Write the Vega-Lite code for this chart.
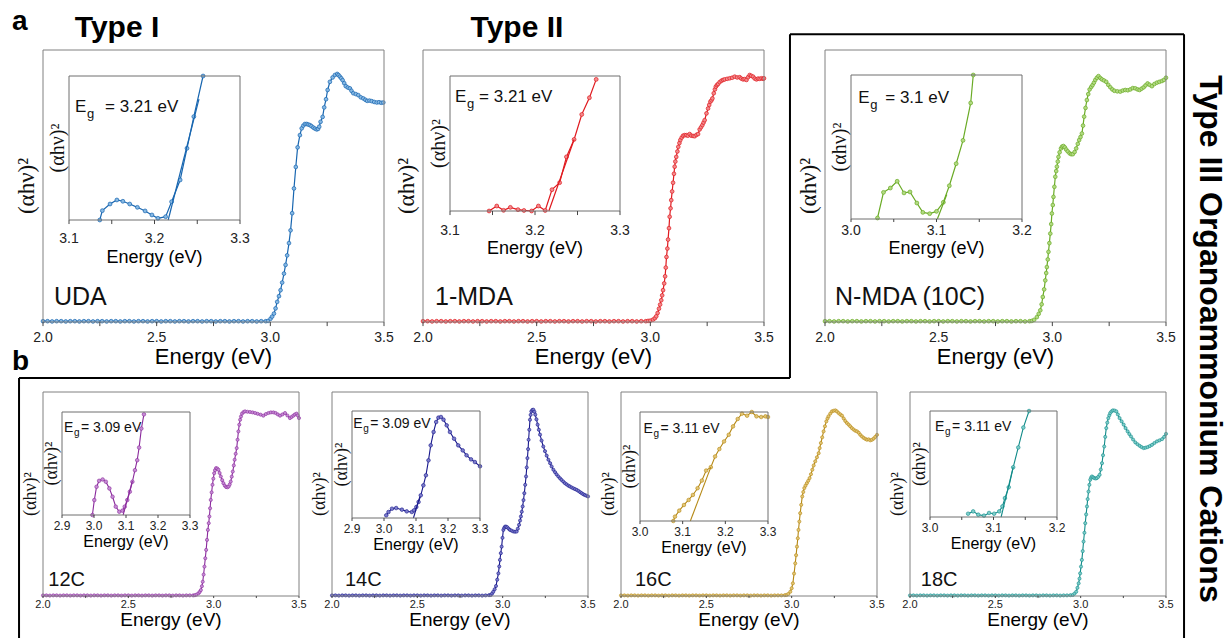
{
"$schema": "https://vega.github.io/schema/vega-lite/v6.json",
"width": 1228, "height": 638,
"autosize": {"type": "none"},
"padding": 0,
"config": {"view": {"stroke": null}, "font": "Liberation Sans"},
"datasets": {
"tk_main": [{"t":2,"l":"2.0"},{"t":2.25,"l":""},{"t":2.5,"l":"2.5"},{"t":2.75,"l":""},{"t":3,"l":"3.0"},{"t":3.25,"l":""},{"t":3.5,"l":"3.5"}],
"tk_a": [{"t":3.1,"l":"3.1"},{"t":3.15,"l":""},{"t":3.2,"l":"3.2"},{"t":3.25,"l":""},{"t":3.3,"l":"3.3"}],
"tk_b": [{"t":3.0,"l":"3.0"},{"t":3.05,"l":""},{"t":3.1,"l":"3.1"},{"t":3.15,"l":""},{"t":3.2,"l":"3.2"}],
"tk_c": [{"t":2.9,"l":"2.9"},{"t":3.0,"l":"3.0"},{"t":3.1,"l":"3.1"},{"t":3.2,"l":"3.2"},{"t":3.3,"l":"3.3"}],
"tk_d": [{"t":3.0,"l":"3.0"},{"t":3.1,"l":"3.1"},{"t":3.2,"l":"3.2"},{"t":3.3,"l":"3.3"}],
"uda": [
{"e":2.00,"v":0.003},{"e":2.02,"v":0.003},{"e":2.04,"v":0.002},{"e":2.06,"v":0.003},{"e":2.08,"v":0.003},{"e":2.10,"v":0.002},{"e":2.12,"v":0.003},{"e":2.14,"v":0.003},{"e":2.16,"v":0.002},{"e":2.18,"v":0.003},{"e":2.20,"v":0.003},{"e":2.22,"v":0.002},{"e":2.24,"v":0.003},{"e":2.26,"v":0.003},{"e":2.28,"v":0.002},{"e":2.30,"v":0.003},{"e":2.32,"v":0.003},{"e":2.34,"v":0.002},{"e":2.36,"v":0.003},{"e":2.38,"v":0.003},{"e":2.40,"v":0.002},{"e":2.42,"v":0.003},{"e":2.44,"v":0.003},{"e":2.46,"v":0.002},{"e":2.48,"v":0.003},{"e":2.50,"v":0.003},{"e":2.52,"v":0.002},{"e":2.54,"v":0.003},{"e":2.56,"v":0.003},{"e":2.58,"v":0.002},{"e":2.60,"v":0.003},{"e":2.62,"v":0.003},{"e":2.64,"v":0.002},{"e":2.66,"v":0.003},{"e":2.68,"v":0.003},{"e":2.70,"v":0.002},{"e":2.72,"v":0.003},{"e":2.74,"v":0.003},{"e":2.76,"v":0.002},{"e":2.78,"v":0.003},{"e":2.80,"v":0.003},{"e":2.82,"v":0.002},{"e":2.84,"v":0.003},{"e":2.86,"v":0.003},{"e":2.88,"v":0.002},{"e":2.90,"v":0.003},{"e":2.92,"v":0.003},{"e":2.94,"v":0.002},{"e":2.96,"v":0.003},{"e":2.98,"v":0.003},
{"e":2.99,"v":0.004},{"e":3.001,"v":0.012},{"e":3.008,"v":0.02},{"e":3.016,"v":0.031},{"e":3.023,"v":0.05},{"e":3.030,"v":0.074},{"e":3.038,"v":0.095},{"e":3.045,"v":0.117},{"e":3.052,"v":0.145},{"e":3.060,"v":0.178},{"e":3.067,"v":0.21},{"e":3.074,"v":0.245},{"e":3.082,"v":0.29},{"e":3.089,"v":0.337},{"e":3.096,"v":0.40},{"e":3.104,"v":0.491},{"e":3.112,"v":0.570},{"e":3.120,"v":0.642},{"e":3.130,"v":0.687},{"e":3.138,"v":0.712},{"e":3.145,"v":0.722},{"e":3.152,"v":0.728},{"e":3.160,"v":0.728},{"e":3.167,"v":0.726},{"e":3.174,"v":0.724},{"e":3.181,"v":0.72},{"e":3.189,"v":0.715},{"e":3.196,"v":0.711},{"e":3.204,"v":0.708},{"e":3.210,"v":0.710},{"e":3.215,"v":0.718},{"e":3.221,"v":0.736},{"e":3.230,"v":0.754},{"e":3.237,"v":0.789},{"e":3.245,"v":0.819},{"e":3.252,"v":0.853},{"e":3.262,"v":0.883},{"e":3.274,"v":0.899},{"e":3.284,"v":0.908},{"e":3.294,"v":0.912},{"e":3.300,"v":0.908},{"e":3.306,"v":0.902},{"e":3.312,"v":0.896},{"e":3.318,"v":0.889},{"e":3.325,"v":0.878},{"e":3.332,"v":0.867},{"e":3.341,"v":0.862},{"e":3.350,"v":0.859},{"e":3.357,"v":0.85},{"e":3.365,"v":0.841},{"e":3.376,"v":0.838},{"e":3.387,"v":0.834},{"e":3.398,"v":0.826},{"e":3.409,"v":0.822},{"e":3.418,"v":0.817},{"e":3.426,"v":0.813},{"e":3.436,"v":0.814},{"e":3.446,"v":0.812},{"e":3.457,"v":0.809},{"e":3.468,"v":0.807},{"e":3.478,"v":0.808},{"e":3.488,"v":0.806},{"e":3.497,"v":0.807}
],
"mda": [
{"e":2.00,"v":0.003},{"e":2.02,"v":0.003},{"e":2.04,"v":0.002},{"e":2.06,"v":0.003},{"e":2.08,"v":0.003},{"e":2.10,"v":0.002},{"e":2.12,"v":0.003},{"e":2.14,"v":0.003},{"e":2.16,"v":0.002},{"e":2.18,"v":0.003},{"e":2.20,"v":0.003},{"e":2.22,"v":0.002},{"e":2.24,"v":0.003},{"e":2.26,"v":0.003},{"e":2.28,"v":0.002},{"e":2.30,"v":0.003},{"e":2.32,"v":0.003},{"e":2.34,"v":0.002},{"e":2.36,"v":0.003},{"e":2.38,"v":0.003},{"e":2.40,"v":0.002},{"e":2.42,"v":0.003},{"e":2.44,"v":0.003},{"e":2.46,"v":0.002},{"e":2.48,"v":0.003},{"e":2.50,"v":0.003},{"e":2.52,"v":0.002},{"e":2.54,"v":0.003},{"e":2.56,"v":0.003},{"e":2.58,"v":0.002},{"e":2.60,"v":0.003},{"e":2.62,"v":0.003},{"e":2.64,"v":0.002},{"e":2.66,"v":0.003},{"e":2.68,"v":0.003},{"e":2.70,"v":0.002},{"e":2.72,"v":0.003},{"e":2.74,"v":0.003},{"e":2.76,"v":0.002},{"e":2.78,"v":0.003},{"e":2.80,"v":0.003},{"e":2.82,"v":0.002},{"e":2.84,"v":0.003},{"e":2.86,"v":0.003},{"e":2.88,"v":0.002},{"e":2.90,"v":0.003},{"e":2.92,"v":0.003},{"e":2.94,"v":0.002},{"e":2.96,"v":0.003},{"e":2.98,"v":0.003},
{"e":2.99,"v":0.004},{"e":3.000,"v":0.005},{"e":3.012,"v":0.009},{"e":3.020,"v":0.014},{"e":3.026,"v":0.021},{"e":3.032,"v":0.033},{"e":3.038,"v":0.049},{"e":3.043,"v":0.064},{"e":3.048,"v":0.080},{"e":3.052,"v":0.098},{"e":3.056,"v":0.117},{"e":3.061,"v":0.142},{"e":3.065,"v":0.168},{"e":3.068,"v":0.2},{"e":3.071,"v":0.239},{"e":3.075,"v":0.27},{"e":3.078,"v":0.303},{"e":3.082,"v":0.345},{"e":3.085,"v":0.387},{"e":3.089,"v":0.418},{"e":3.092,"v":0.448},{"e":3.096,"v":0.48},{"e":3.100,"v":0.512},{"e":3.104,"v":0.545},{"e":3.107,"v":0.571},{"e":3.110,"v":0.59},{"e":3.114,"v":0.607},{"e":3.119,"v":0.627},{"e":3.123,"v":0.644},{"e":3.128,"v":0.658},{"e":3.132,"v":0.669},{"e":3.138,"v":0.678},{"e":3.144,"v":0.685},{"e":3.151,"v":0.687},{"e":3.158,"v":0.687},{"e":3.165,"v":0.685},{"e":3.173,"v":0.691},{"e":3.180,"v":0.685},{"e":3.188,"v":0.684},{"e":3.195,"v":0.683},{"e":3.203,"v":0.688},{"e":3.210,"v":0.691},{"e":3.217,"v":0.708},{"e":3.223,"v":0.716},{"e":3.229,"v":0.724},{"e":3.234,"v":0.733},{"e":3.239,"v":0.742},{"e":3.247,"v":0.767},{"e":3.254,"v":0.785},{"e":3.259,"v":0.798},{"e":3.264,"v":0.810},{"e":3.269,"v":0.815},{"e":3.273,"v":0.822},{"e":3.279,"v":0.841},{"e":3.284,"v":0.855},{"e":3.288,"v":0.865},{"e":3.293,"v":0.871},{"e":3.298,"v":0.875},{"e":3.305,"v":0.882},{"e":3.313,"v":0.887},{"e":3.320,"v":0.89},{"e":3.327,"v":0.892},{"e":3.338,"v":0.894},{"e":3.349,"v":0.896},{"e":3.360,"v":0.898},{"e":3.371,"v":0.902},{"e":3.382,"v":0.899},{"e":3.393,"v":0.900},{"e":3.400,"v":0.895},{"e":3.408,"v":0.892},{"e":3.415,"v":0.893},{"e":3.423,"v":0.890},{"e":3.430,"v":0.9},{"e":3.437,"v":0.908},{"e":3.444,"v":0.905},{"e":3.452,"v":0.902},{"e":3.459,"v":0.895},{"e":3.467,"v":0.892},{"e":3.474,"v":0.895},{"e":3.481,"v":0.894},{"e":3.489,"v":0.896},{"e":3.496,"v":0.894},{"e":3.500,"v":0.896}
],
"nmda": [
{"e":2.00,"v":0.003},{"e":2.02,"v":0.003},{"e":2.04,"v":0.002},{"e":2.06,"v":0.003},{"e":2.08,"v":0.003},{"e":2.10,"v":0.002},{"e":2.12,"v":0.003},{"e":2.14,"v":0.003},{"e":2.16,"v":0.002},{"e":2.18,"v":0.003},{"e":2.20,"v":0.003},{"e":2.22,"v":0.002},{"e":2.24,"v":0.003},{"e":2.26,"v":0.003},{"e":2.28,"v":0.002},{"e":2.30,"v":0.003},{"e":2.32,"v":0.003},{"e":2.34,"v":0.002},{"e":2.36,"v":0.003},{"e":2.38,"v":0.003},{"e":2.40,"v":0.002},{"e":2.42,"v":0.003},{"e":2.44,"v":0.003},{"e":2.46,"v":0.002},{"e":2.48,"v":0.003},{"e":2.50,"v":0.003},{"e":2.52,"v":0.002},{"e":2.54,"v":0.003},{"e":2.56,"v":0.003},{"e":2.58,"v":0.002},{"e":2.60,"v":0.003},{"e":2.62,"v":0.003},{"e":2.64,"v":0.002},{"e":2.66,"v":0.003},{"e":2.68,"v":0.003},{"e":2.70,"v":0.002},{"e":2.72,"v":0.003},{"e":2.74,"v":0.003},{"e":2.76,"v":0.002},{"e":2.78,"v":0.003},{"e":2.80,"v":0.003},{"e":2.82,"v":0.002},{"e":2.84,"v":0.003},{"e":2.86,"v":0.003},{"e":2.88,"v":0.002},{"e":2.90,"v":0.003},
{"e":2.91,"v":0.004},{"e":2.92,"v":0.008},{"e":2.932,"v":0.018},{"e":2.94,"v":0.03},{"e":2.947,"v":0.043},{"e":2.953,"v":0.065},{"e":2.958,"v":0.092},{"e":2.964,"v":0.12},{"e":2.969,"v":0.153},{"e":2.973,"v":0.18},{"e":2.976,"v":0.202},{"e":2.980,"v":0.23},{"e":2.983,"v":0.258},{"e":2.987,"v":0.29},{"e":2.991,"v":0.325},{"e":2.995,"v":0.36},{"e":2.998,"v":0.399},{"e":3.002,"v":0.43},{"e":3.005,"v":0.460},{"e":3.009,"v":0.497},{"e":3.013,"v":0.534},{"e":3.017,"v":0.555},{"e":3.020,"v":0.571},{"e":3.024,"v":0.59},{"e":3.027,"v":0.607},{"e":3.032,"v":0.624},{"e":3.038,"v":0.638},{"e":3.043,"v":0.645},{"e":3.049,"v":0.647},{"e":3.055,"v":0.642},{"e":3.061,"v":0.634},{"e":3.068,"v":0.627},{"e":3.076,"v":0.620},{"e":3.083,"v":0.617},{"e":3.090,"v":0.617},{"e":3.098,"v":0.625},{"e":3.105,"v":0.638},{"e":3.112,"v":0.655},{"e":3.118,"v":0.669},{"e":3.124,"v":0.68},{"e":3.130,"v":0.693},{"e":3.135,"v":0.722},{"e":3.140,"v":0.755},{"e":3.146,"v":0.787},{"e":3.152,"v":0.816},{"e":3.158,"v":0.838},{"e":3.164,"v":0.855},{"e":3.171,"v":0.864},{"e":3.177,"v":0.871},{"e":3.183,"v":0.88},{"e":3.189,"v":0.890},{"e":3.196,"v":0.898},{"e":3.203,"v":0.904},{"e":3.211,"v":0.897},{"e":3.218,"v":0.892},{"e":3.227,"v":0.888},{"e":3.237,"v":0.883},{"e":3.246,"v":0.872},{"e":3.255,"v":0.863},{"e":3.264,"v":0.855},{"e":3.273,"v":0.850},{"e":3.286,"v":0.848},{"e":3.299,"v":0.847},{"e":3.310,"v":0.851},{"e":3.321,"v":0.853},{"e":3.332,"v":0.852},{"e":3.343,"v":0.855},{"e":3.354,"v":0.86},{"e":3.365,"v":0.859},{"e":3.375,"v":0.855},{"e":3.384,"v":0.853},{"e":3.393,"v":0.858},{"e":3.402,"v":0.863},{"e":3.410,"v":0.87},{"e":3.419,"v":0.877},{"e":3.428,"v":0.872},{"e":3.438,"v":0.867},{"e":3.449,"v":0.875},{"e":3.460,"v":0.880},{"e":3.471,"v":0.883},{"e":3.482,"v":0.886},{"e":3.491,"v":0.89},{"e":3.500,"v":0.898}
],
"c12": [
{"e":2.00,"v":0.003},{"e":2.02,"v":0.003},{"e":2.04,"v":0.002},{"e":2.06,"v":0.003},{"e":2.08,"v":0.003},{"e":2.10,"v":0.002},{"e":2.12,"v":0.003},{"e":2.14,"v":0.003},{"e":2.16,"v":0.002},{"e":2.18,"v":0.003},{"e":2.20,"v":0.003},{"e":2.22,"v":0.002},{"e":2.24,"v":0.003},{"e":2.26,"v":0.003},{"e":2.28,"v":0.002},{"e":2.30,"v":0.003},{"e":2.32,"v":0.003},{"e":2.34,"v":0.002},{"e":2.36,"v":0.003},{"e":2.38,"v":0.003},{"e":2.40,"v":0.002},{"e":2.42,"v":0.003},{"e":2.44,"v":0.003},{"e":2.46,"v":0.002},{"e":2.48,"v":0.003},{"e":2.50,"v":0.003},{"e":2.52,"v":0.002},{"e":2.54,"v":0.003},{"e":2.56,"v":0.003},{"e":2.58,"v":0.002},{"e":2.60,"v":0.003},{"e":2.62,"v":0.003},{"e":2.64,"v":0.002},{"e":2.66,"v":0.003},{"e":2.68,"v":0.003},{"e":2.70,"v":0.002},{"e":2.72,"v":0.003},{"e":2.74,"v":0.003},{"e":2.76,"v":0.002},{"e":2.78,"v":0.003},{"e":2.80,"v":0.003},{"e":2.82,"v":0.002},{"e":2.84,"v":0.003},{"e":2.86,"v":0.003},{"e":2.88,"v":0.003},
{"e":2.89,"v":0.004},{"e":2.90,"v":0.007},{"e":2.911,"v":0.013},{"e":2.918,"v":0.02},{"e":2.925,"v":0.029},{"e":2.931,"v":0.048},{"e":2.936,"v":0.070},{"e":2.941,"v":0.105},{"e":2.946,"v":0.144},{"e":2.951,"v":0.185},{"e":2.956,"v":0.226},{"e":2.961,"v":0.275},{"e":2.966,"v":0.324},{"e":2.971,"v":0.357},{"e":2.975,"v":0.390},{"e":2.979,"v":0.43},{"e":2.983,"v":0.471},{"e":2.988,"v":0.508},{"e":2.993,"v":0.545},{"e":2.998,"v":0.575},{"e":3.003,"v":0.602},{"e":3.008,"v":0.617},{"e":3.014,"v":0.627},{"e":3.021,"v":0.625},{"e":3.028,"v":0.619},{"e":3.035,"v":0.603},{"e":3.042,"v":0.586},{"e":3.050,"v":0.568},{"e":3.057,"v":0.553},{"e":3.065,"v":0.541},{"e":3.073,"v":0.534},{"e":3.081,"v":0.533},{"e":3.088,"v":0.537},{"e":3.094,"v":0.547},{"e":3.100,"v":0.561},{"e":3.106,"v":0.585},{"e":3.112,"v":0.610},{"e":3.118,"v":0.64},{"e":3.123,"v":0.668},{"e":3.129,"v":0.697},{"e":3.135,"v":0.725},{"e":3.140,"v":0.766},{"e":3.145,"v":0.807},{"e":3.150,"v":0.84},{"e":3.155,"v":0.864},{"e":3.160,"v":0.88},{"e":3.166,"v":0.894},{"e":3.175,"v":0.902},{"e":3.184,"v":0.905},{"e":3.198,"v":0.903},{"e":3.213,"v":0.902},{"e":3.228,"v":0.9},{"e":3.243,"v":0.897},{"e":3.258,"v":0.893},{"e":3.275,"v":0.889},{"e":3.291,"v":0.884},{"e":3.306,"v":0.892},{"e":3.321,"v":0.897},{"e":3.335,"v":0.9},{"e":3.350,"v":0.900},{"e":3.363,"v":0.897},{"e":3.376,"v":0.89},{"e":3.389,"v":0.884},{"e":3.403,"v":0.89},{"e":3.418,"v":0.897},{"e":3.432,"v":0.885},{"e":3.447,"v":0.872},{"e":3.457,"v":0.878},{"e":3.467,"v":0.884},{"e":3.476,"v":0.89},{"e":3.486,"v":0.894},{"e":3.493,"v":0.885},{"e":3.500,"v":0.872}
],
"c14": [
{"e":2.00,"v":0.003},{"e":2.02,"v":0.003},{"e":2.04,"v":0.002},{"e":2.06,"v":0.003},{"e":2.08,"v":0.003},{"e":2.10,"v":0.002},{"e":2.12,"v":0.003},{"e":2.14,"v":0.003},{"e":2.16,"v":0.002},{"e":2.18,"v":0.003},{"e":2.20,"v":0.003},{"e":2.22,"v":0.002},{"e":2.24,"v":0.003},{"e":2.26,"v":0.003},{"e":2.28,"v":0.002},{"e":2.30,"v":0.003},{"e":2.32,"v":0.003},{"e":2.34,"v":0.002},{"e":2.36,"v":0.003},{"e":2.38,"v":0.003},{"e":2.40,"v":0.002},{"e":2.42,"v":0.003},{"e":2.44,"v":0.003},{"e":2.46,"v":0.002},{"e":2.48,"v":0.003},{"e":2.50,"v":0.003},{"e":2.52,"v":0.002},{"e":2.54,"v":0.003},{"e":2.56,"v":0.003},{"e":2.58,"v":0.002},{"e":2.60,"v":0.003},{"e":2.62,"v":0.003},{"e":2.64,"v":0.002},{"e":2.66,"v":0.003},{"e":2.68,"v":0.003},{"e":2.70,"v":0.002},{"e":2.72,"v":0.003},{"e":2.74,"v":0.003},{"e":2.76,"v":0.002},{"e":2.78,"v":0.003},{"e":2.80,"v":0.003},{"e":2.82,"v":0.002},{"e":2.84,"v":0.003},{"e":2.86,"v":0.003},{"e":2.88,"v":0.002},{"e":2.90,"v":0.003},{"e":2.92,"v":0.004},
{"e":2.93,"v":0.005},{"e":2.938,"v":0.012},{"e":2.945,"v":0.021},{"e":2.953,"v":0.033},{"e":2.961,"v":0.049},{"e":2.968,"v":0.08},{"e":2.975,"v":0.111},{"e":2.980,"v":0.145},{"e":2.984,"v":0.177},{"e":2.989,"v":0.21},{"e":2.994,"v":0.242},{"e":2.999,"v":0.285},{"e":3.004,"v":0.324},{"e":3.009,"v":0.334},{"e":3.014,"v":0.340},{"e":3.020,"v":0.34},{"e":3.027,"v":0.337},{"e":3.035,"v":0.33},{"e":3.043,"v":0.324},{"e":3.053,"v":0.32},{"e":3.063,"v":0.316},{"e":3.073,"v":0.315},{"e":3.082,"v":0.316},{"e":3.089,"v":0.33},{"e":3.096,"v":0.349},{"e":3.102,"v":0.37},{"e":3.107,"v":0.390},{"e":3.112,"v":0.413},{"e":3.117,"v":0.439},{"e":3.122,"v":0.47},{"e":3.127,"v":0.504},{"e":3.132,"v":0.545},{"e":3.137,"v":0.586},{"e":3.141,"v":0.63},{"e":3.145,"v":0.676},{"e":3.149,"v":0.72},{"e":3.152,"v":0.766},{"e":3.156,"v":0.815},{"e":3.160,"v":0.864},{"e":3.164,"v":0.888},{"e":3.168,"v":0.905},{"e":3.174,"v":0.912},{"e":3.180,"v":0.913},{"e":3.186,"v":0.903},{"e":3.191,"v":0.889},{"e":3.198,"v":0.866},{"e":3.205,"v":0.840},{"e":3.212,"v":0.815},{"e":3.219,"v":0.791},{"e":3.228,"v":0.762},{"e":3.238,"v":0.733},{"e":3.248,"v":0.71},{"e":3.258,"v":0.688},{"e":3.268,"v":0.668},{"e":3.278,"v":0.651},{"e":3.287,"v":0.635},{"e":3.297,"v":0.619},{"e":3.307,"v":0.607},{"e":3.316,"v":0.596},{"e":3.326,"v":0.586},{"e":3.336,"v":0.577},{"e":3.345,"v":0.569},{"e":3.355,"v":0.561},{"e":3.365,"v":0.553},{"e":3.375,"v":0.547},{"e":3.385,"v":0.541},{"e":3.394,"v":0.537},{"e":3.404,"v":0.532},{"e":3.414,"v":0.528},{"e":3.424,"v":0.524},{"e":3.434,"v":0.520},{"e":3.444,"v":0.515},{"e":3.454,"v":0.509},{"e":3.463,"v":0.504},{"e":3.472,"v":0.499},{"e":3.481,"v":0.495},{"e":3.490,"v":0.492},{"e":3.500,"v":0.488}
],
"c16": [
{"e":2.00,"v":0.003},{"e":2.02,"v":0.003},{"e":2.04,"v":0.002},{"e":2.06,"v":0.003},{"e":2.08,"v":0.003},{"e":2.10,"v":0.002},{"e":2.12,"v":0.003},{"e":2.14,"v":0.003},{"e":2.16,"v":0.002},{"e":2.18,"v":0.003},{"e":2.20,"v":0.003},{"e":2.22,"v":0.002},{"e":2.24,"v":0.003},{"e":2.26,"v":0.003},{"e":2.28,"v":0.002},{"e":2.30,"v":0.003},{"e":2.32,"v":0.003},{"e":2.34,"v":0.002},{"e":2.36,"v":0.003},{"e":2.38,"v":0.003},{"e":2.40,"v":0.002},{"e":2.42,"v":0.003},{"e":2.44,"v":0.003},{"e":2.46,"v":0.002},{"e":2.48,"v":0.003},{"e":2.50,"v":0.003},{"e":2.52,"v":0.002},{"e":2.54,"v":0.003},{"e":2.56,"v":0.003},{"e":2.58,"v":0.002},{"e":2.60,"v":0.003},{"e":2.62,"v":0.003},{"e":2.64,"v":0.002},{"e":2.66,"v":0.003},{"e":2.68,"v":0.003},{"e":2.70,"v":0.002},{"e":2.72,"v":0.003},{"e":2.74,"v":0.003},{"e":2.76,"v":0.002},{"e":2.78,"v":0.003},{"e":2.80,"v":0.003},{"e":2.82,"v":0.002},{"e":2.84,"v":0.003},{"e":2.86,"v":0.003},{"e":2.88,"v":0.002},{"e":2.90,"v":0.003},{"e":2.92,"v":0.003},{"e":2.94,"v":0.003},{"e":2.96,"v":0.004},
{"e":2.97,"v":0.005},{"e":2.98,"v":0.01},{"e":2.992,"v":0.021},{"e":3.000,"v":0.038},{"e":3.007,"v":0.062},{"e":3.014,"v":0.11},{"e":3.021,"v":0.160},{"e":3.026,"v":0.2},{"e":3.031,"v":0.242},{"e":3.036,"v":0.283},{"e":3.040,"v":0.324},{"e":3.045,"v":0.365},{"e":3.050,"v":0.406},{"e":3.056,"v":0.447},{"e":3.062,"v":0.488},{"e":3.068,"v":0.51},{"e":3.074,"v":0.529},{"e":3.081,"v":0.541},{"e":3.089,"v":0.553},{"e":3.097,"v":0.565},{"e":3.105,"v":0.578},{"e":3.113,"v":0.597},{"e":3.121,"v":0.619},{"e":3.129,"v":0.64},{"e":3.138,"v":0.660},{"e":3.148,"v":0.68},{"e":3.158,"v":0.700},{"e":3.164,"v":0.725},{"e":3.171,"v":0.750},{"e":3.179,"v":0.778},{"e":3.187,"v":0.807},{"e":3.195,"v":0.832},{"e":3.203,"v":0.856},{"e":3.210,"v":0.87},{"e":3.216,"v":0.881},{"e":3.226,"v":0.894},{"e":3.236,"v":0.905},{"e":3.246,"v":0.908},{"e":3.256,"v":0.910},{"e":3.265,"v":0.905},{"e":3.275,"v":0.897},{"e":3.285,"v":0.89},{"e":3.295,"v":0.884},{"e":3.305,"v":0.87},{"e":3.314,"v":0.858},{"e":3.324,"v":0.848},{"e":3.334,"v":0.84},{"e":3.343,"v":0.832},{"e":3.353,"v":0.823},{"e":3.363,"v":0.816},{"e":3.373,"v":0.81},{"e":3.383,"v":0.807},{"e":3.393,"v":0.8},{"e":3.402,"v":0.79},{"e":3.412,"v":0.782},{"e":3.422,"v":0.775},{"e":3.432,"v":0.77},{"e":3.441,"v":0.766},{"e":3.451,"v":0.768},{"e":3.461,"v":0.763},{"e":3.471,"v":0.766},{"e":3.481,"v":0.772},{"e":3.490,"v":0.78},{"e":3.500,"v":0.790}
],
"c18": [
{"e":2.00,"v":0.003},{"e":2.02,"v":0.003},{"e":2.04,"v":0.002},{"e":2.06,"v":0.003},{"e":2.08,"v":0.003},{"e":2.10,"v":0.002},{"e":2.12,"v":0.003},{"e":2.14,"v":0.003},{"e":2.16,"v":0.002},{"e":2.18,"v":0.003},{"e":2.20,"v":0.003},{"e":2.22,"v":0.002},{"e":2.24,"v":0.003},{"e":2.26,"v":0.003},{"e":2.28,"v":0.002},{"e":2.30,"v":0.003},{"e":2.32,"v":0.003},{"e":2.34,"v":0.002},{"e":2.36,"v":0.003},{"e":2.38,"v":0.003},{"e":2.40,"v":0.002},{"e":2.42,"v":0.003},{"e":2.44,"v":0.003},{"e":2.46,"v":0.002},{"e":2.48,"v":0.003},{"e":2.50,"v":0.003},{"e":2.52,"v":0.002},{"e":2.54,"v":0.003},{"e":2.56,"v":0.003},{"e":2.58,"v":0.002},{"e":2.60,"v":0.003},{"e":2.62,"v":0.003},{"e":2.64,"v":0.002},{"e":2.66,"v":0.003},{"e":2.68,"v":0.003},{"e":2.70,"v":0.002},{"e":2.72,"v":0.003},{"e":2.74,"v":0.003},{"e":2.76,"v":0.002},{"e":2.78,"v":0.003},{"e":2.80,"v":0.003},{"e":2.82,"v":0.002},{"e":2.84,"v":0.003},{"e":2.86,"v":0.003},{"e":2.88,"v":0.002},{"e":2.90,"v":0.003},{"e":2.92,"v":0.003},{"e":2.94,"v":0.004},
{"e":2.954,"v":0.005},{"e":2.964,"v":0.012},{"e":2.974,"v":0.021},{"e":2.981,"v":0.04},{"e":2.988,"v":0.062},{"e":2.993,"v":0.085},{"e":2.997,"v":0.111},{"e":3.002,"v":0.144},{"e":3.007,"v":0.177},{"e":3.012,"v":0.22},{"e":3.017,"v":0.267},{"e":3.022,"v":0.31},{"e":3.027,"v":0.357},{"e":3.032,"v":0.4},{"e":3.037,"v":0.439},{"e":3.041,"v":0.475},{"e":3.046,"v":0.512},{"e":3.051,"v":0.545},{"e":3.056,"v":0.570},{"e":3.061,"v":0.58},{"e":3.066,"v":0.586},{"e":3.073,"v":0.582},{"e":3.080,"v":0.578},{"e":3.088,"v":0.576},{"e":3.095,"v":0.578},{"e":3.103,"v":0.584},{"e":3.111,"v":0.594},{"e":3.118,"v":0.62},{"e":3.125,"v":0.651},{"e":3.131,"v":0.69},{"e":3.138,"v":0.733},{"e":3.144,"v":0.78},{"e":3.150,"v":0.823},{"e":3.156,"v":0.85},{"e":3.162,"v":0.872},{"e":3.168,"v":0.886},{"e":3.173,"v":0.897},{"e":3.181,"v":0.905},{"e":3.189,"v":0.910},{"e":3.199,"v":0.909},{"e":3.209,"v":0.905},{"e":3.218,"v":0.89},{"e":3.228,"v":0.872},{"e":3.240,"v":0.856},{"e":3.252,"v":0.840},{"e":3.263,"v":0.823},{"e":3.275,"v":0.807},{"e":3.285,"v":0.794},{"e":3.295,"v":0.782},{"e":3.307,"v":0.767},{"e":3.320,"v":0.753},{"e":3.333,"v":0.744},{"e":3.346,"v":0.736},{"e":3.357,"v":0.73},{"e":3.369,"v":0.725},{"e":3.380,"v":0.727},{"e":3.392,"v":0.730},{"e":3.405,"v":0.735},{"e":3.418,"v":0.741},{"e":3.432,"v":0.75},{"e":3.447,"v":0.758},{"e":3.462,"v":0.763},{"e":3.477,"v":0.769},{"e":3.489,"v":0.78},{"e":3.500,"v":0.795}
],
"ui": [{"e":3.136,"v":0.0},{"e":3.139,"v":0.065},{"e":3.148,"v":0.111},{"e":3.156,"v":0.139},{"e":3.163,"v":0.130},{"e":3.171,"v":0.111},{"e":3.180,"v":0.088},{"e":3.189,"v":0.063},{"e":3.197,"v":0.035},{"e":3.204,"v":0.012},{"e":3.213,"v":0.023},{"e":3.220,"v":0.127},{"e":3.230,"v":0.278},{"e":3.238,"v":0.498},{"e":3.246,"v":0.718},{"e":3.2568,"v":1.0}],
"mi": [{"e":3.146,"v":0.0},{"e":3.155,"v":0.037},{"e":3.163,"v":0.005},{"e":3.171,"v":0.027},{"e":3.180,"v":0.010},{"e":3.187,"v":0.004},{"e":3.196,"v":0.0},{"e":3.204,"v":0.037},{"e":3.212,"v":0.004},{"e":3.220,"v":0.158},{"e":3.229,"v":0.210},{"e":3.237,"v":0.401},{"e":3.246,"v":0.530},{"e":3.255,"v":0.715},{"e":3.264,"v":0.839},{"e":3.272,"v":0.975}],
"ni": [{"e":3.031,"v":0.007},{"e":3.038,"v":0.185},{"e":3.046,"v":0.215},{"e":3.054,"v":0.262},{"e":3.062,"v":0.181},{"e":3.069,"v":0.188},{"e":3.077,"v":0.111},{"e":3.084,"v":0.046},{"e":3.092,"v":0.037},{"e":3.100,"v":0.053},{"e":3.108,"v":0.116},{"e":3.115,"v":0.231},{"e":3.123,"v":0.384},{"e":3.131,"v":0.546},{"e":3.140,"v":0.806},{"e":3.143,"v":1.0}],
"i12": [{"e":2.995,"v":0.0},{"e":3.001,"v":0.145},{"e":3.008,"v":0.274},{"e":3.016,"v":0.332},{"e":3.027,"v":0.345},{"e":3.037,"v":0.323},{"e":3.048,"v":0.258},{"e":3.058,"v":0.177},{"e":3.068,"v":0.081},{"e":3.079,"v":0.032},{"e":3.089,"v":0.042},{"e":3.096,"v":0.081},{"e":3.104,"v":0.145},{"e":3.112,"v":0.226},{"e":3.120,"v":0.323},{"e":3.128,"v":0.435},{"e":3.135,"v":0.532},{"e":3.141,"v":0.655},{"e":3.148,"v":0.839},{"e":3.156,"v":0.977}],
"i14": [{"e":3.007,"v":0.025},{"e":3.014,"v":0.056},{"e":3.025,"v":0.087},{"e":3.038,"v":0.093},{"e":3.056,"v":0.078},{"e":3.071,"v":0.062},{"e":3.087,"v":0.056},{"e":3.094,"v":0.072},{"e":3.101,"v":0.103},{"e":3.108,"v":0.150},{"e":3.115,"v":0.212},{"e":3.123,"v":0.305},{"e":3.131,"v":0.399},{"e":3.139,"v":0.539},{"e":3.146,"v":0.679},{"e":3.155,"v":0.804},{"e":3.163,"v":0.897},{"e":3.170,"v":0.938},{"e":3.178,"v":0.944},{"e":3.186,"v":0.919},{"e":3.196,"v":0.866},{"e":3.206,"v":0.804},{"e":3.219,"v":0.741},{"e":3.232,"v":0.679},{"e":3.246,"v":0.632},{"e":3.258,"v":0.586},{"e":3.272,"v":0.548},{"e":3.284,"v":0.523},{"e":3.300,"v":0.483}],
"i16": [{"e":3.078,"v":0.0},{"e":3.082,"v":0.040},{"e":3.092,"v":0.095},{"e":3.103,"v":0.147},{"e":3.114,"v":0.193},{"e":3.124,"v":0.239},{"e":3.135,"v":0.301},{"e":3.145,"v":0.371},{"e":3.155,"v":0.463},{"e":3.166,"v":0.494},{"e":3.176,"v":0.592},{"e":3.186,"v":0.660},{"e":3.197,"v":0.730},{"e":3.208,"v":0.791},{"e":3.218,"v":0.868},{"e":3.229,"v":0.936},{"e":3.239,"v":0.985},{"e":3.251,"v":0.966},{"e":3.262,"v":1.0},{"e":3.273,"v":0.960},{"e":3.284,"v":0.954},{"e":3.294,"v":0.960},{"e":3.300,"v":0.954}],
"i18": [{"e":3.060,"v":0.031},{"e":3.068,"v":0.053},{"e":3.076,"v":0.022},{"e":3.085,"v":0.013},{"e":3.093,"v":0.038},{"e":3.101,"v":0.031},{"e":3.109,"v":0.053},{"e":3.114,"v":0.100},{"e":3.118,"v":0.178},{"e":3.124,"v":0.281},{"e":3.131,"v":0.469},{"e":3.139,"v":0.656},{"e":3.147,"v":0.844},{"e":3.156,"v":1.0}]
},
"layer": [
{"layer": [
  {"data": {"name": "uda"}, "mark": {"type": "line", "color": "#1866b0", "strokeWidth": 1.2, "point": {"filled": true, "fill": "#86b8e3", "stroke": "#1866b0", "strokeWidth": 0.7, "size": 14}},
   "encoding": {"x": {"field": "e", "type": "quantitative", "scale": {"domain": [2, 3.5], "range": [43, 384], "nice": false, "zero": false}, "axis": null}, "y": {"field": "v", "type": "quantitative", "scale": {"domain": [0, 1], "range": [322, 50], "nice": false, "zero": false}, "axis": null}}},
  {"data": {"values": [{}]}, "mark": {"type": "rect", "filled": false, "color": "#808080", "strokeWidth": 1},
   "encoding": {"x": {"datum": 2, "type": "quantitative", "scale": {"domain": [2, 3.5], "range": [43, 384], "nice": false, "zero": false}, "axis": null}, "x2": {"datum": 3.5}, "y": {"datum": 0, "type": "quantitative", "scale": {"domain": [0, 1], "range": [322, 50], "nice": false, "zero": false}, "axis": null}, "y2": {"datum": 1}}},
  {"data": {"name": "tk_main"}, "mark": {"type": "rule", "color": "#444", "strokeWidth": 1},
   "encoding": {"x": {"field": "t", "type": "quantitative", "scale": {"domain": [2, 3.5], "range": [43, 384], "nice": false, "zero": false}, "axis": null}, "y": {"datum": 0, "type": "quantitative", "scale": {"domain": [0, 1], "range": [322, 50], "nice": false, "zero": false}, "axis": null}, "y2": {"datum": -0.015}}},
  {"data": {"name": "tk_main"}, "mark": {"type": "text", "fontSize": 14, "align": "center", "baseline": "top", "color": "#222"},
   "encoding": {"x": {"field": "t", "type": "quantitative", "scale": {"domain": [2, 3.5], "range": [43, 384], "nice": false, "zero": false}, "axis": null}, "y": {"datum": -0.033, "type": "quantitative", "scale": {"domain": [0, 1], "range": [322, 50], "nice": false, "zero": false}, "axis": null}, "text": {"field": "l", "type": "nominal"}}},
  {"data": {"values": [{}]}, "mark": {"type": "text", "text": "Energy (eV)", "fontSize": 22, "align": "center", "baseline": "top", "color": "#000"},
   "encoding": {"x": {"datum": 2.75, "type": "quantitative", "scale": {"domain": [2, 3.5], "range": [43, 384], "nice": false, "zero": false}, "axis": null}, "y": {"datum": -0.093, "type": "quantitative", "scale": {"domain": [0, 1], "range": [322, 50], "nice": false, "zero": false}, "axis": null}}},
  {"data": {"values": [{}]}, "mark": {"type": "text", "text": "(αhν)²", "font": "Liberation Serif", "fontSize": 23, "angle": 270, "align": "center", "baseline": "bottom", "color": "#111"},
   "encoding": {"x": {"datum": 1.982, "type": "quantitative", "scale": {"domain": [2, 3.5], "range": [43, 384], "nice": false, "zero": false}, "axis": null}, "y": {"datum": 0.5, "type": "quantitative", "scale": {"domain": [0, 1], "range": [322, 50], "nice": false, "zero": false}, "axis": null}}},
  {"data": {"values": [{}]}, "mark": {"type": "text", "text": "UDA", "fontSize": 25, "align": "left", "baseline": "alphabetic", "color": "#111"},
   "encoding": {"x": {"datum": 2.048, "type": "quantitative", "scale": {"domain": [2, 3.5], "range": [43, 384], "nice": false, "zero": false}, "axis": null}, "y": {"datum": 0.0625, "type": "quantitative", "scale": {"domain": [0, 1], "range": [322, 50], "nice": false, "zero": false}, "axis": null}}}
]},
{"layer": [
  {"data": {"name": "mda"}, "mark": {"type": "line", "color": "#e01a1f", "strokeWidth": 1.2, "point": {"filled": true, "fill": "#f28a8c", "stroke": "#e01a1f", "strokeWidth": 0.7, "size": 14}},
   "encoding": {"x": {"field": "e", "type": "quantitative", "scale": {"domain": [2, 3.5], "range": [423, 764], "nice": false, "zero": false}, "axis": null}, "y": {"field": "v", "type": "quantitative", "scale": {"domain": [0, 1], "range": [322, 50], "nice": false, "zero": false}, "axis": null}}},
  {"data": {"values": [{}]}, "mark": {"type": "rect", "filled": false, "color": "#808080", "strokeWidth": 1},
   "encoding": {"x": {"datum": 2, "type": "quantitative", "scale": {"domain": [2, 3.5], "range": [423, 764], "nice": false, "zero": false}, "axis": null}, "x2": {"datum": 3.5}, "y": {"datum": 0, "type": "quantitative", "scale": {"domain": [0, 1], "range": [322, 50], "nice": false, "zero": false}, "axis": null}, "y2": {"datum": 1}}},
  {"data": {"name": "tk_main"}, "mark": {"type": "rule", "color": "#444", "strokeWidth": 1},
   "encoding": {"x": {"field": "t", "type": "quantitative", "scale": {"domain": [2, 3.5], "range": [423, 764], "nice": false, "zero": false}, "axis": null}, "y": {"datum": 0, "type": "quantitative", "scale": {"domain": [0, 1], "range": [322, 50], "nice": false, "zero": false}, "axis": null}, "y2": {"datum": -0.015}}},
  {"data": {"name": "tk_main"}, "mark": {"type": "text", "fontSize": 14, "align": "center", "baseline": "top", "color": "#222"},
   "encoding": {"x": {"field": "t", "type": "quantitative", "scale": {"domain": [2, 3.5], "range": [423, 764], "nice": false, "zero": false}, "axis": null}, "y": {"datum": -0.033, "type": "quantitative", "scale": {"domain": [0, 1], "range": [322, 50], "nice": false, "zero": false}, "axis": null}, "text": {"field": "l", "type": "nominal"}}},
  {"data": {"values": [{}]}, "mark": {"type": "text", "text": "Energy (eV)", "fontSize": 22, "align": "center", "baseline": "top", "color": "#000"},
   "encoding": {"x": {"datum": 2.75, "type": "quantitative", "scale": {"domain": [2, 3.5], "range": [423, 764], "nice": false, "zero": false}, "axis": null}, "y": {"datum": -0.093, "type": "quantitative", "scale": {"domain": [0, 1], "range": [322, 50], "nice": false, "zero": false}, "axis": null}}},
  {"data": {"values": [{}]}, "mark": {"type": "text", "text": "(αhν)²", "font": "Liberation Serif", "fontSize": 23, "angle": 270, "align": "center", "baseline": "bottom", "color": "#111"},
   "encoding": {"x": {"datum": 1.982, "type": "quantitative", "scale": {"domain": [2, 3.5], "range": [423, 764], "nice": false, "zero": false}, "axis": null}, "y": {"datum": 0.5, "type": "quantitative", "scale": {"domain": [0, 1], "range": [322, 50], "nice": false, "zero": false}, "axis": null}}},
  {"data": {"values": [{}]}, "mark": {"type": "text", "text": "1-MDA", "fontSize": 25, "align": "left", "baseline": "alphabetic", "color": "#111"},
   "encoding": {"x": {"datum": 2.053, "type": "quantitative", "scale": {"domain": [2, 3.5], "range": [423, 764], "nice": false, "zero": false}, "axis": null}, "y": {"datum": 0.0625, "type": "quantitative", "scale": {"domain": [0, 1], "range": [322, 50], "nice": false, "zero": false}, "axis": null}}}
]},
{"layer": [
  {"data": {"name": "nmda"}, "mark": {"type": "line", "color": "#6aab26", "strokeWidth": 1.2, "point": {"filled": true, "fill": "#b2da82", "stroke": "#6aab26", "strokeWidth": 0.7, "size": 14}},
   "encoding": {"x": {"field": "e", "type": "quantitative", "scale": {"domain": [2, 3.5], "range": [825, 1166], "nice": false, "zero": false}, "axis": null}, "y": {"field": "v", "type": "quantitative", "scale": {"domain": [0, 1], "range": [322, 50], "nice": false, "zero": false}, "axis": null}}},
  {"data": {"values": [{}]}, "mark": {"type": "rect", "filled": false, "color": "#808080", "strokeWidth": 1},
   "encoding": {"x": {"datum": 2, "type": "quantitative", "scale": {"domain": [2, 3.5], "range": [825, 1166], "nice": false, "zero": false}, "axis": null}, "x2": {"datum": 3.5}, "y": {"datum": 0, "type": "quantitative", "scale": {"domain": [0, 1], "range": [322, 50], "nice": false, "zero": false}, "axis": null}, "y2": {"datum": 1}}},
  {"data": {"name": "tk_main"}, "mark": {"type": "rule", "color": "#444", "strokeWidth": 1},
   "encoding": {"x": {"field": "t", "type": "quantitative", "scale": {"domain": [2, 3.5], "range": [825, 1166], "nice": false, "zero": false}, "axis": null}, "y": {"datum": 0, "type": "quantitative", "scale": {"domain": [0, 1], "range": [322, 50], "nice": false, "zero": false}, "axis": null}, "y2": {"datum": -0.015}}},
  {"data": {"name": "tk_main"}, "mark": {"type": "text", "fontSize": 14, "align": "center", "baseline": "top", "color": "#222"},
   "encoding": {"x": {"field": "t", "type": "quantitative", "scale": {"domain": [2, 3.5], "range": [825, 1166], "nice": false, "zero": false}, "axis": null}, "y": {"datum": -0.033, "type": "quantitative", "scale": {"domain": [0, 1], "range": [322, 50], "nice": false, "zero": false}, "axis": null}, "text": {"field": "l", "type": "nominal"}}},
  {"data": {"values": [{}]}, "mark": {"type": "text", "text": "Energy (eV)", "fontSize": 22, "align": "center", "baseline": "top", "color": "#000"},
   "encoding": {"x": {"datum": 2.75, "type": "quantitative", "scale": {"domain": [2, 3.5], "range": [825, 1166], "nice": false, "zero": false}, "axis": null}, "y": {"datum": -0.093, "type": "quantitative", "scale": {"domain": [0, 1], "range": [322, 50], "nice": false, "zero": false}, "axis": null}}},
  {"data": {"values": [{}]}, "mark": {"type": "text", "text": "(αhν)²", "font": "Liberation Serif", "fontSize": 23, "angle": 270, "align": "center", "baseline": "bottom", "color": "#111"},
   "encoding": {"x": {"datum": 1.982, "type": "quantitative", "scale": {"domain": [2, 3.5], "range": [825, 1166], "nice": false, "zero": false}, "axis": null}, "y": {"datum": 0.5, "type": "quantitative", "scale": {"domain": [0, 1], "range": [322, 50], "nice": false, "zero": false}, "axis": null}}},
  {"data": {"values": [{}]}, "mark": {"type": "text", "text": "N-MDA (10C)", "fontSize": 25, "align": "left", "baseline": "alphabetic", "color": "#111"},
   "encoding": {"x": {"datum": 2.044, "type": "quantitative", "scale": {"domain": [2, 3.5], "range": [825, 1166], "nice": false, "zero": false}, "axis": null}, "y": {"datum": 0.0625, "type": "quantitative", "scale": {"domain": [0, 1], "range": [322, 50], "nice": false, "zero": false}, "axis": null}}}
]},
{"layer": [
  {"data": {"name": "c12"}, "mark": {"type": "line", "color": "#8a2a9c", "strokeWidth": 1.1, "point": {"filled": true, "fill": "#c68cd4", "stroke": "#8a2a9c", "strokeWidth": 0.6, "size": 10}},
   "encoding": {"x": {"field": "e", "type": "quantitative", "scale": {"domain": [2, 3.5], "range": [43, 299], "nice": false, "zero": false}, "axis": null}, "y": {"field": "v", "type": "quantitative", "scale": {"domain": [0, 1], "range": [596, 392], "nice": false, "zero": false}, "axis": null}}},
  {"data": {"values": [{}]}, "mark": {"type": "rect", "filled": false, "color": "#808080", "strokeWidth": 1},
   "encoding": {"x": {"datum": 2, "type": "quantitative", "scale": {"domain": [2, 3.5], "range": [43, 299], "nice": false, "zero": false}, "axis": null}, "x2": {"datum": 3.5}, "y": {"datum": 0, "type": "quantitative", "scale": {"domain": [0, 1], "range": [596, 392], "nice": false, "zero": false}, "axis": null}, "y2": {"datum": 1}}},
  {"data": {"name": "tk_main"}, "mark": {"type": "rule", "color": "#444", "strokeWidth": 1},
   "encoding": {"x": {"field": "t", "type": "quantitative", "scale": {"domain": [2, 3.5], "range": [43, 299], "nice": false, "zero": false}, "axis": null}, "y": {"datum": 0, "type": "quantitative", "scale": {"domain": [0, 1], "range": [596, 392], "nice": false, "zero": false}, "axis": null}, "y2": {"datum": -0.01}}},
  {"data": {"name": "tk_main"}, "mark": {"type": "text", "fontSize": 11, "align": "center", "baseline": "top", "color": "#222"},
   "encoding": {"x": {"field": "t", "type": "quantitative", "scale": {"domain": [2, 3.5], "range": [43, 299], "nice": false, "zero": false}, "axis": null}, "y": {"datum": -0.015, "type": "quantitative", "scale": {"domain": [0, 1], "range": [596, 392], "nice": false, "zero": false}, "axis": null}, "text": {"field": "l", "type": "nominal"}}},
  {"data": {"values": [{}]}, "mark": {"type": "text", "text": "Energy (eV)", "fontSize": 19, "align": "center", "baseline": "top", "color": "#000"},
   "encoding": {"x": {"datum": 2.75, "type": "quantitative", "scale": {"domain": [2, 3.5], "range": [43, 299], "nice": false, "zero": false}, "axis": null}, "y": {"datum": -0.075, "type": "quantitative", "scale": {"domain": [0, 1], "range": [596, 392], "nice": false, "zero": false}, "axis": null}}},
  {"data": {"values": [{}]}, "mark": {"type": "text", "text": "(αhν)²", "font": "Liberation Serif", "fontSize": 18, "angle": 270, "align": "center", "baseline": "bottom", "color": "#111"},
   "encoding": {"x": {"datum": 1.982, "type": "quantitative", "scale": {"domain": [2, 3.5], "range": [43, 299], "nice": false, "zero": false}, "axis": null}, "y": {"datum": 0.5, "type": "quantitative", "scale": {"domain": [0, 1], "range": [596, 392], "nice": false, "zero": false}, "axis": null}}},
  {"data": {"values": [{}]}, "mark": {"type": "text", "text": "12C", "fontSize": 20, "align": "left", "baseline": "alphabetic", "color": "#111"},
   "encoding": {"x": {"datum": 2.031, "type": "quantitative", "scale": {"domain": [2, 3.5], "range": [43, 299], "nice": false, "zero": false}, "axis": null}, "y": {"datum": 0.049, "type": "quantitative", "scale": {"domain": [0, 1], "range": [596, 392], "nice": false, "zero": false}, "axis": null}}}
]},
{"layer": [
  {"data": {"name": "c14"}, "mark": {"type": "line", "color": "#18188c", "strokeWidth": 1.1, "point": {"filled": true, "fill": "#7d7dcb", "stroke": "#18188c", "strokeWidth": 0.6, "size": 10}},
   "encoding": {"x": {"field": "e", "type": "quantitative", "scale": {"domain": [2, 3.5], "range": [332, 588], "nice": false, "zero": false}, "axis": null}, "y": {"field": "v", "type": "quantitative", "scale": {"domain": [0, 1], "range": [596, 392], "nice": false, "zero": false}, "axis": null}}},
  {"data": {"values": [{}]}, "mark": {"type": "rect", "filled": false, "color": "#808080", "strokeWidth": 1},
   "encoding": {"x": {"datum": 2, "type": "quantitative", "scale": {"domain": [2, 3.5], "range": [332, 588], "nice": false, "zero": false}, "axis": null}, "x2": {"datum": 3.5}, "y": {"datum": 0, "type": "quantitative", "scale": {"domain": [0, 1], "range": [596, 392], "nice": false, "zero": false}, "axis": null}, "y2": {"datum": 1}}},
  {"data": {"name": "tk_main"}, "mark": {"type": "rule", "color": "#444", "strokeWidth": 1},
   "encoding": {"x": {"field": "t", "type": "quantitative", "scale": {"domain": [2, 3.5], "range": [332, 588], "nice": false, "zero": false}, "axis": null}, "y": {"datum": 0, "type": "quantitative", "scale": {"domain": [0, 1], "range": [596, 392], "nice": false, "zero": false}, "axis": null}, "y2": {"datum": -0.01}}},
  {"data": {"name": "tk_main"}, "mark": {"type": "text", "fontSize": 11, "align": "center", "baseline": "top", "color": "#222"},
   "encoding": {"x": {"field": "t", "type": "quantitative", "scale": {"domain": [2, 3.5], "range": [332, 588], "nice": false, "zero": false}, "axis": null}, "y": {"datum": -0.015, "type": "quantitative", "scale": {"domain": [0, 1], "range": [596, 392], "nice": false, "zero": false}, "axis": null}, "text": {"field": "l", "type": "nominal"}}},
  {"data": {"values": [{}]}, "mark": {"type": "text", "text": "Energy (eV)", "fontSize": 19, "align": "center", "baseline": "top", "color": "#000"},
   "encoding": {"x": {"datum": 2.75, "type": "quantitative", "scale": {"domain": [2, 3.5], "range": [332, 588], "nice": false, "zero": false}, "axis": null}, "y": {"datum": -0.075, "type": "quantitative", "scale": {"domain": [0, 1], "range": [596, 392], "nice": false, "zero": false}, "axis": null}}},
  {"data": {"values": [{}]}, "mark": {"type": "text", "text": "(αhν)²", "font": "Liberation Serif", "fontSize": 18, "angle": 270, "align": "center", "baseline": "bottom", "color": "#111"},
   "encoding": {"x": {"datum": 1.982, "type": "quantitative", "scale": {"domain": [2, 3.5], "range": [332, 588], "nice": false, "zero": false}, "axis": null}, "y": {"datum": 0.5, "type": "quantitative", "scale": {"domain": [0, 1], "range": [596, 392], "nice": false, "zero": false}, "axis": null}}},
  {"data": {"values": [{}]}, "mark": {"type": "text", "text": "14C", "fontSize": 20, "align": "left", "baseline": "alphabetic", "color": "#111"},
   "encoding": {"x": {"datum": 2.076, "type": "quantitative", "scale": {"domain": [2, 3.5], "range": [332, 588], "nice": false, "zero": false}, "axis": null}, "y": {"datum": 0.049, "type": "quantitative", "scale": {"domain": [0, 1], "range": [596, 392], "nice": false, "zero": false}, "axis": null}}}
]},
{"layer": [
  {"data": {"name": "c16"}, "mark": {"type": "line", "color": "#b58814", "strokeWidth": 1.1, "point": {"filled": true, "fill": "#e2c575", "stroke": "#b58814", "strokeWidth": 0.6, "size": 10}},
   "encoding": {"x": {"field": "e", "type": "quantitative", "scale": {"domain": [2, 3.5], "range": [621, 877], "nice": false, "zero": false}, "axis": null}, "y": {"field": "v", "type": "quantitative", "scale": {"domain": [0, 1], "range": [596, 392], "nice": false, "zero": false}, "axis": null}}},
  {"data": {"values": [{}]}, "mark": {"type": "rect", "filled": false, "color": "#808080", "strokeWidth": 1},
   "encoding": {"x": {"datum": 2, "type": "quantitative", "scale": {"domain": [2, 3.5], "range": [621, 877], "nice": false, "zero": false}, "axis": null}, "x2": {"datum": 3.5}, "y": {"datum": 0, "type": "quantitative", "scale": {"domain": [0, 1], "range": [596, 392], "nice": false, "zero": false}, "axis": null}, "y2": {"datum": 1}}},
  {"data": {"name": "tk_main"}, "mark": {"type": "rule", "color": "#444", "strokeWidth": 1},
   "encoding": {"x": {"field": "t", "type": "quantitative", "scale": {"domain": [2, 3.5], "range": [621, 877], "nice": false, "zero": false}, "axis": null}, "y": {"datum": 0, "type": "quantitative", "scale": {"domain": [0, 1], "range": [596, 392], "nice": false, "zero": false}, "axis": null}, "y2": {"datum": -0.01}}},
  {"data": {"name": "tk_main"}, "mark": {"type": "text", "fontSize": 11, "align": "center", "baseline": "top", "color": "#222"},
   "encoding": {"x": {"field": "t", "type": "quantitative", "scale": {"domain": [2, 3.5], "range": [621, 877], "nice": false, "zero": false}, "axis": null}, "y": {"datum": -0.015, "type": "quantitative", "scale": {"domain": [0, 1], "range": [596, 392], "nice": false, "zero": false}, "axis": null}, "text": {"field": "l", "type": "nominal"}}},
  {"data": {"values": [{}]}, "mark": {"type": "text", "text": "Energy (eV)", "fontSize": 19, "align": "center", "baseline": "top", "color": "#000"},
   "encoding": {"x": {"datum": 2.75, "type": "quantitative", "scale": {"domain": [2, 3.5], "range": [621, 877], "nice": false, "zero": false}, "axis": null}, "y": {"datum": -0.075, "type": "quantitative", "scale": {"domain": [0, 1], "range": [596, 392], "nice": false, "zero": false}, "axis": null}}},
  {"data": {"values": [{}]}, "mark": {"type": "text", "text": "(αhν)²", "font": "Liberation Serif", "fontSize": 18, "angle": 270, "align": "center", "baseline": "bottom", "color": "#111"},
   "encoding": {"x": {"datum": 1.982, "type": "quantitative", "scale": {"domain": [2, 3.5], "range": [621, 877], "nice": false, "zero": false}, "axis": null}, "y": {"datum": 0.5, "type": "quantitative", "scale": {"domain": [0, 1], "range": [596, 392], "nice": false, "zero": false}, "axis": null}}},
  {"data": {"values": [{}]}, "mark": {"type": "text", "text": "16C", "fontSize": 20, "align": "left", "baseline": "alphabetic", "color": "#111"},
   "encoding": {"x": {"datum": 2.082, "type": "quantitative", "scale": {"domain": [2, 3.5], "range": [621, 877], "nice": false, "zero": false}, "axis": null}, "y": {"datum": 0.049, "type": "quantitative", "scale": {"domain": [0, 1], "range": [596, 392], "nice": false, "zero": false}, "axis": null}}}
]},
{"layer": [
  {"data": {"name": "c18"}, "mark": {"type": "line", "color": "#118b89", "strokeWidth": 1.1, "point": {"filled": true, "fill": "#7fcdca", "stroke": "#118b89", "strokeWidth": 0.6, "size": 10}},
   "encoding": {"x": {"field": "e", "type": "quantitative", "scale": {"domain": [2, 3.5], "range": [910, 1166], "nice": false, "zero": false}, "axis": null}, "y": {"field": "v", "type": "quantitative", "scale": {"domain": [0, 1], "range": [596, 392], "nice": false, "zero": false}, "axis": null}}},
  {"data": {"values": [{}]}, "mark": {"type": "rect", "filled": false, "color": "#808080", "strokeWidth": 1},
   "encoding": {"x": {"datum": 2, "type": "quantitative", "scale": {"domain": [2, 3.5], "range": [910, 1166], "nice": false, "zero": false}, "axis": null}, "x2": {"datum": 3.5}, "y": {"datum": 0, "type": "quantitative", "scale": {"domain": [0, 1], "range": [596, 392], "nice": false, "zero": false}, "axis": null}, "y2": {"datum": 1}}},
  {"data": {"name": "tk_main"}, "mark": {"type": "rule", "color": "#444", "strokeWidth": 1},
   "encoding": {"x": {"field": "t", "type": "quantitative", "scale": {"domain": [2, 3.5], "range": [910, 1166], "nice": false, "zero": false}, "axis": null}, "y": {"datum": 0, "type": "quantitative", "scale": {"domain": [0, 1], "range": [596, 392], "nice": false, "zero": false}, "axis": null}, "y2": {"datum": -0.01}}},
  {"data": {"name": "tk_main"}, "mark": {"type": "text", "fontSize": 11, "align": "center", "baseline": "top", "color": "#222"},
   "encoding": {"x": {"field": "t", "type": "quantitative", "scale": {"domain": [2, 3.5], "range": [910, 1166], "nice": false, "zero": false}, "axis": null}, "y": {"datum": -0.015, "type": "quantitative", "scale": {"domain": [0, 1], "range": [596, 392], "nice": false, "zero": false}, "axis": null}, "text": {"field": "l", "type": "nominal"}}},
  {"data": {"values": [{}]}, "mark": {"type": "text", "text": "Energy (eV)", "fontSize": 19, "align": "center", "baseline": "top", "color": "#000"},
   "encoding": {"x": {"datum": 2.75, "type": "quantitative", "scale": {"domain": [2, 3.5], "range": [910, 1166], "nice": false, "zero": false}, "axis": null}, "y": {"datum": -0.075, "type": "quantitative", "scale": {"domain": [0, 1], "range": [596, 392], "nice": false, "zero": false}, "axis": null}}},
  {"data": {"values": [{}]}, "mark": {"type": "text", "text": "(αhν)²", "font": "Liberation Serif", "fontSize": 18, "angle": 270, "align": "center", "baseline": "bottom", "color": "#111"},
   "encoding": {"x": {"datum": 1.982, "type": "quantitative", "scale": {"domain": [2, 3.5], "range": [910, 1166], "nice": false, "zero": false}, "axis": null}, "y": {"datum": 0.5, "type": "quantitative", "scale": {"domain": [0, 1], "range": [596, 392], "nice": false, "zero": false}, "axis": null}}},
  {"data": {"values": [{}]}, "mark": {"type": "text", "text": "18C", "fontSize": 20, "align": "left", "baseline": "alphabetic", "color": "#111"},
   "encoding": {"x": {"datum": 2.063, "type": "quantitative", "scale": {"domain": [2, 3.5], "range": [910, 1166], "nice": false, "zero": false}, "axis": null}, "y": {"datum": 0.049, "type": "quantitative", "scale": {"domain": [0, 1], "range": [596, 392], "nice": false, "zero": false}, "axis": null}}}
]},
{"layer": [
  {"data": {"name": "ui"}, "mark": {"type": "line", "color": "#1866b0", "strokeWidth": 1.2, "point": {"filled": true, "fill": "#86b8e3", "stroke": "#1866b0", "strokeWidth": 0.7, "size": 15}},
   "encoding": {"x": {"field": "e", "type": "quantitative", "scale": {"domain": [3.1, 3.3], "range": [69, 240], "nice": false, "zero": false}, "axis": null}, "y": {"field": "v", "type": "quantitative", "scale": {"domain": [0, 1], "range": [220, 76], "nice": false, "zero": false}, "axis": null}}},
  {"data": {"values": [{}]}, "mark": {"type": "rule", "color": "#1866b0", "strokeWidth": 1.2},
   "encoding": {"x": {"datum": 3.216, "type": "quantitative", "scale": {"domain": [3.1, 3.3], "range": [69, 240], "nice": false, "zero": false}, "axis": null}, "y": {"datum": 0, "type": "quantitative", "scale": {"domain": [0, 1], "range": [220, 76], "nice": false, "zero": false}, "axis": null}, "x2": {"datum": 3.252}, "y2": {"datum": 0.84}}},
  {"data": {"values": [{}]}, "mark": {"type": "rect", "filled": false, "color": "#6e6e6e", "strokeWidth": 1},
   "encoding": {"x": {"datum": 3.1, "type": "quantitative", "scale": {"domain": [3.1, 3.3], "range": [69, 240], "nice": false, "zero": false}, "axis": null}, "x2": {"datum": 3.3}, "y": {"datum": 0, "type": "quantitative", "scale": {"domain": [0, 1], "range": [220, 76], "nice": false, "zero": false}, "axis": null}, "y2": {"datum": 1}}},
  {"data": {"name": "tk_a"}, "mark": {"type": "rule", "color": "#444", "strokeWidth": 1},
   "encoding": {"x": {"field": "t", "type": "quantitative", "scale": {"domain": [3.1, 3.3], "range": [69, 240], "nice": false, "zero": false}, "axis": null}, "y": {"datum": 0, "type": "quantitative", "scale": {"domain": [0, 1], "range": [220, 76], "nice": false, "zero": false}, "axis": null}, "y2": {"datum": -0.028}}},
  {"data": {"name": "tk_a"}, "mark": {"type": "text", "fontSize": 14, "align": "center", "baseline": "top", "color": "#222"},
   "encoding": {"x": {"field": "t", "type": "quantitative", "scale": {"domain": [3.1, 3.3], "range": [69, 240], "nice": false, "zero": false}, "axis": null}, "y": {"datum": -0.083, "type": "quantitative", "scale": {"domain": [0, 1], "range": [220, 76], "nice": false, "zero": false}, "axis": null}, "text": {"field": "l", "type": "nominal"}}},
  {"data": {"values": [{}]}, "mark": {"type": "text", "text": "Energy (eV)", "fontSize": 18, "align": "center", "baseline": "top", "color": "#000"},
   "encoding": {"x": {"datum": 3.2, "type": "quantitative", "scale": {"domain": [3.1, 3.3], "range": [69, 240], "nice": false, "zero": false}, "axis": null}, "y": {"datum": -0.2, "type": "quantitative", "scale": {"domain": [0, 1], "range": [220, 76], "nice": false, "zero": false}, "axis": null}}},
  {"data": {"values": [{}]}, "mark": {"type": "text", "text": "(αhν)²", "font": "Liberation Serif", "fontSize": 20, "angle": 270, "align": "center", "baseline": "bottom", "color": "#111"},
   "encoding": {"x": {"datum": 3.0988, "type": "quantitative", "scale": {"domain": [3.1, 3.3], "range": [69, 240], "nice": false, "zero": false}, "axis": null}, "y": {"datum": 0.5, "type": "quantitative", "scale": {"domain": [0, 1], "range": [220, 76], "nice": false, "zero": false}, "axis": null}}},
  {"data": {"values": [{}]}, "mark": {"type": "text", "text": "E", "fontSize": 17, "align": "left", "baseline": "alphabetic", "color": "#111"},
   "encoding": {"x": {"datum": 3.107, "type": "quantitative", "scale": {"domain": [3.1, 3.3], "range": [69, 240], "nice": false, "zero": false}, "axis": null}, "y": {"datum": 0.752, "type": "quantitative", "scale": {"domain": [0, 1], "range": [220, 76], "nice": false, "zero": false}, "axis": null}}},
  {"data": {"values": [{}]}, "mark": {"type": "text", "text": "g", "fontSize": 13, "align": "left", "baseline": "alphabetic", "dx": 12, "dy": 6, "color": "#111"},
   "encoding": {"x": {"datum": 3.107, "type": "quantitative", "scale": {"domain": [3.1, 3.3], "range": [69, 240], "nice": false, "zero": false}, "axis": null}, "y": {"datum": 0.752, "type": "quantitative", "scale": {"domain": [0, 1], "range": [220, 76], "nice": false, "zero": false}, "axis": null}}},
  {"data": {"values": [{}]}, "mark": {"type": "text", "text": "= 3.21 eV", "fontSize": 17, "align": "left", "baseline": "alphabetic", "dx": 30, "color": "#111"},
   "encoding": {"x": {"datum": 3.107, "type": "quantitative", "scale": {"domain": [3.1, 3.3], "range": [69, 240], "nice": false, "zero": false}, "axis": null}, "y": {"datum": 0.752, "type": "quantitative", "scale": {"domain": [0, 1], "range": [220, 76], "nice": false, "zero": false}, "axis": null}}}
]},
{"layer": [
  {"data": {"name": "mi"}, "mark": {"type": "line", "color": "#e01a1f", "strokeWidth": 1.2, "point": {"filled": true, "fill": "#f28a8c", "stroke": "#e01a1f", "strokeWidth": 0.7, "size": 15}},
   "encoding": {"x": {"field": "e", "type": "quantitative", "scale": {"domain": [3.1, 3.3], "range": [450, 620], "nice": false, "zero": false}, "axis": null}, "y": {"field": "v", "type": "quantitative", "scale": {"domain": [0, 1], "range": [211, 76], "nice": false, "zero": false}, "axis": null}}},
  {"data": {"values": [{}]}, "mark": {"type": "rule", "color": "#e01a1f", "strokeWidth": 1.2},
   "encoding": {"x": {"datum": 3.2163, "type": "quantitative", "scale": {"domain": [3.1, 3.3], "range": [450, 620], "nice": false, "zero": false}, "axis": null}, "y": {"datum": 0, "type": "quantitative", "scale": {"domain": [0, 1], "range": [211, 76], "nice": false, "zero": false}, "axis": null}, "x2": {"datum": 3.246}, "y2": {"datum": 0.53}}},
  {"data": {"values": [{}]}, "mark": {"type": "rect", "filled": false, "color": "#6e6e6e", "strokeWidth": 1},
   "encoding": {"x": {"datum": 3.1, "type": "quantitative", "scale": {"domain": [3.1, 3.3], "range": [450, 620], "nice": false, "zero": false}, "axis": null}, "x2": {"datum": 3.3}, "y": {"datum": 0, "type": "quantitative", "scale": {"domain": [0, 1], "range": [211, 76], "nice": false, "zero": false}, "axis": null}, "y2": {"datum": 1}}},
  {"data": {"name": "tk_a"}, "mark": {"type": "rule", "color": "#444", "strokeWidth": 1},
   "encoding": {"x": {"field": "t", "type": "quantitative", "scale": {"domain": [3.1, 3.3], "range": [450, 620], "nice": false, "zero": false}, "axis": null}, "y": {"datum": 0, "type": "quantitative", "scale": {"domain": [0, 1], "range": [211, 76], "nice": false, "zero": false}, "axis": null}, "y2": {"datum": -0.03}}},
  {"data": {"name": "tk_a"}, "mark": {"type": "text", "fontSize": 14, "align": "center", "baseline": "top", "color": "#222"},
   "encoding": {"x": {"field": "t", "type": "quantitative", "scale": {"domain": [3.1, 3.3], "range": [450, 620], "nice": false, "zero": false}, "axis": null}, "y": {"datum": -0.096, "type": "quantitative", "scale": {"domain": [0, 1], "range": [211, 76], "nice": false, "zero": false}, "axis": null}, "text": {"field": "l", "type": "nominal"}}},
  {"data": {"values": [{}]}, "mark": {"type": "text", "text": "Energy (eV)", "fontSize": 18, "align": "center", "baseline": "top", "color": "#000"},
   "encoding": {"x": {"datum": 3.2, "type": "quantitative", "scale": {"domain": [3.1, 3.3], "range": [450, 620], "nice": false, "zero": false}, "axis": null}, "y": {"datum": -0.212, "type": "quantitative", "scale": {"domain": [0, 1], "range": [211, 76], "nice": false, "zero": false}, "axis": null}}},
  {"data": {"values": [{}]}, "mark": {"type": "text", "text": "(αhν)²", "font": "Liberation Serif", "fontSize": 20, "angle": 270, "align": "center", "baseline": "bottom", "color": "#111"},
   "encoding": {"x": {"datum": 3.0988, "type": "quantitative", "scale": {"domain": [3.1, 3.3], "range": [450, 620], "nice": false, "zero": false}, "axis": null}, "y": {"datum": 0.5, "type": "quantitative", "scale": {"domain": [0, 1], "range": [211, 76], "nice": false, "zero": false}, "axis": null}}},
  {"data": {"values": [{}]}, "mark": {"type": "text", "text": "E", "fontSize": 17, "align": "left", "baseline": "alphabetic", "color": "#111"},
   "encoding": {"x": {"datum": 3.106, "type": "quantitative", "scale": {"domain": [3.1, 3.3], "range": [450, 620], "nice": false, "zero": false}, "axis": null}, "y": {"datum": 0.81, "type": "quantitative", "scale": {"domain": [0, 1], "range": [211, 76], "nice": false, "zero": false}, "axis": null}}},
  {"data": {"values": [{}]}, "mark": {"type": "text", "text": "g", "fontSize": 13, "align": "left", "baseline": "alphabetic", "dx": 12, "dy": 6, "color": "#111"},
   "encoding": {"x": {"datum": 3.106, "type": "quantitative", "scale": {"domain": [3.1, 3.3], "range": [450, 620], "nice": false, "zero": false}, "axis": null}, "y": {"datum": 0.81, "type": "quantitative", "scale": {"domain": [0, 1], "range": [211, 76], "nice": false, "zero": false}, "axis": null}}},
  {"data": {"values": [{}]}, "mark": {"type": "text", "text": "= 3.21 eV", "fontSize": 17, "align": "left", "baseline": "alphabetic", "dx": 24, "color": "#111"},
   "encoding": {"x": {"datum": 3.106, "type": "quantitative", "scale": {"domain": [3.1, 3.3], "range": [450, 620], "nice": false, "zero": false}, "axis": null}, "y": {"datum": 0.81, "type": "quantitative", "scale": {"domain": [0, 1], "range": [211, 76], "nice": false, "zero": false}, "axis": null}}}
]},
{"layer": [
  {"data": {"name": "ni"}, "mark": {"type": "line", "color": "#6aab26", "strokeWidth": 1.2, "point": {"filled": true, "fill": "#b2da82", "stroke": "#6aab26", "strokeWidth": 0.7, "size": 15}},
   "encoding": {"x": {"field": "e", "type": "quantitative", "scale": {"domain": [3.0, 3.2], "range": [851, 1022], "nice": false, "zero": false}, "axis": null}, "y": {"field": "v", "type": "quantitative", "scale": {"domain": [0, 1], "range": [219, 75], "nice": false, "zero": false}, "axis": null}}},
  {"data": {"values": [{}]}, "mark": {"type": "rule", "color": "#6aab26", "strokeWidth": 1.2},
   "encoding": {"x": {"datum": 3.101, "type": "quantitative", "scale": {"domain": [3.0, 3.2], "range": [851, 1022], "nice": false, "zero": false}, "axis": null}, "y": {"datum": 0, "type": "quantitative", "scale": {"domain": [0, 1], "range": [219, 75], "nice": false, "zero": false}, "axis": null}, "x2": {"datum": 3.112}, "y2": {"datum": 0.17}}},
  {"data": {"values": [{}]}, "mark": {"type": "rect", "filled": false, "color": "#6e6e6e", "strokeWidth": 1},
   "encoding": {"x": {"datum": 3.0, "type": "quantitative", "scale": {"domain": [3.0, 3.2], "range": [851, 1022], "nice": false, "zero": false}, "axis": null}, "x2": {"datum": 3.2}, "y": {"datum": 0, "type": "quantitative", "scale": {"domain": [0, 1], "range": [219, 75], "nice": false, "zero": false}, "axis": null}, "y2": {"datum": 1}}},
  {"data": {"name": "tk_b"}, "mark": {"type": "rule", "color": "#444", "strokeWidth": 1},
   "encoding": {"x": {"field": "t", "type": "quantitative", "scale": {"domain": [3.0, 3.2], "range": [851, 1022], "nice": false, "zero": false}, "axis": null}, "y": {"datum": 0, "type": "quantitative", "scale": {"domain": [0, 1], "range": [219, 75], "nice": false, "zero": false}, "axis": null}, "y2": {"datum": -0.021}}},
  {"data": {"name": "tk_b"}, "mark": {"type": "text", "fontSize": 14, "align": "center", "baseline": "top", "color": "#222"},
   "encoding": {"x": {"field": "t", "type": "quantitative", "scale": {"domain": [3.0, 3.2], "range": [851, 1022], "nice": false, "zero": false}, "axis": null}, "y": {"datum": -0.035, "type": "quantitative", "scale": {"domain": [0, 1], "range": [219, 75], "nice": false, "zero": false}, "axis": null}, "text": {"field": "l", "type": "nominal"}}},
  {"data": {"values": [{}]}, "mark": {"type": "text", "text": "Energy (eV)", "fontSize": 18, "align": "center", "baseline": "top", "color": "#000"},
   "encoding": {"x": {"datum": 3.1, "type": "quantitative", "scale": {"domain": [3.0, 3.2], "range": [851, 1022], "nice": false, "zero": false}, "axis": null}, "y": {"datum": -0.146, "type": "quantitative", "scale": {"domain": [0, 1], "range": [219, 75], "nice": false, "zero": false}, "axis": null}}},
  {"data": {"values": [{}]}, "mark": {"type": "text", "text": "(αhν)²", "font": "Liberation Serif", "fontSize": 20, "angle": 270, "align": "center", "baseline": "bottom", "color": "#111"},
   "encoding": {"x": {"datum": 2.9988, "type": "quantitative", "scale": {"domain": [3.0, 3.2], "range": [851, 1022], "nice": false, "zero": false}, "axis": null}, "y": {"datum": 0.5, "type": "quantitative", "scale": {"domain": [0, 1], "range": [219, 75], "nice": false, "zero": false}, "axis": null}}},
  {"data": {"values": [{}]}, "mark": {"type": "text", "text": "E", "fontSize": 17, "align": "left", "baseline": "alphabetic", "color": "#111"},
   "encoding": {"x": {"datum": 3.0085, "type": "quantitative", "scale": {"domain": [3.0, 3.2], "range": [851, 1022], "nice": false, "zero": false}, "axis": null}, "y": {"datum": 0.808, "type": "quantitative", "scale": {"domain": [0, 1], "range": [219, 75], "nice": false, "zero": false}, "axis": null}}},
  {"data": {"values": [{}]}, "mark": {"type": "text", "text": "g", "fontSize": 13, "align": "left", "baseline": "alphabetic", "dx": 12, "dy": 6, "color": "#111"},
   "encoding": {"x": {"datum": 3.0085, "type": "quantitative", "scale": {"domain": [3.0, 3.2], "range": [851, 1022], "nice": false, "zero": false}, "axis": null}, "y": {"datum": 0.808, "type": "quantitative", "scale": {"domain": [0, 1], "range": [219, 75], "nice": false, "zero": false}, "axis": null}}},
  {"data": {"values": [{}]}, "mark": {"type": "text", "text": "= 3.1 eV", "fontSize": 17, "align": "left", "baseline": "alphabetic", "dx": 27, "color": "#111"},
   "encoding": {"x": {"datum": 3.0085, "type": "quantitative", "scale": {"domain": [3.0, 3.2], "range": [851, 1022], "nice": false, "zero": false}, "axis": null}, "y": {"datum": 0.808, "type": "quantitative", "scale": {"domain": [0, 1], "range": [219, 75], "nice": false, "zero": false}, "axis": null}}}
]},
{"layer": [
  {"data": {"name": "i12"}, "mark": {"type": "line", "color": "#8a2a9c", "strokeWidth": 1.1, "point": {"filled": true, "fill": "#c68cd4", "stroke": "#8a2a9c", "strokeWidth": 0.6, "size": 13}},
   "encoding": {"x": {"field": "e", "type": "quantitative", "scale": {"domain": [2.9, 3.3], "range": [62, 190], "nice": false, "zero": false}, "axis": null}, "y": {"field": "v", "type": "quantitative", "scale": {"domain": [0, 1], "range": [515, 412], "nice": false, "zero": false}, "axis": null}}},
  {"data": {"values": [{}]}, "mark": {"type": "rule", "color": "#8a2a9c", "strokeWidth": 1.1},
   "encoding": {"x": {"datum": 3.091, "type": "quantitative", "scale": {"domain": [2.9, 3.3], "range": [62, 190], "nice": false, "zero": false}, "axis": null}, "y": {"datum": 0, "type": "quantitative", "scale": {"domain": [0, 1], "range": [515, 412], "nice": false, "zero": false}, "axis": null}, "x2": {"datum": 3.12}, "y2": {"datum": 0.33}}},
  {"data": {"values": [{}]}, "mark": {"type": "rect", "filled": false, "color": "#6e6e6e", "strokeWidth": 1},
   "encoding": {"x": {"datum": 2.9, "type": "quantitative", "scale": {"domain": [2.9, 3.3], "range": [62, 190], "nice": false, "zero": false}, "axis": null}, "x2": {"datum": 3.3}, "y": {"datum": 0, "type": "quantitative", "scale": {"domain": [0, 1], "range": [515, 412], "nice": false, "zero": false}, "axis": null}, "y2": {"datum": 1}}},
  {"data": {"name": "tk_c"}, "mark": {"type": "rule", "color": "#444", "strokeWidth": 1},
   "encoding": {"x": {"field": "t", "type": "quantitative", "scale": {"domain": [2.9, 3.3], "range": [62, 190], "nice": false, "zero": false}, "axis": null}, "y": {"datum": 0, "type": "quantitative", "scale": {"domain": [0, 1], "range": [515, 412], "nice": false, "zero": false}, "axis": null}, "y2": {"datum": -0.029}}},
  {"data": {"name": "tk_c"}, "mark": {"type": "text", "fontSize": 12, "align": "center", "baseline": "top", "color": "#222"},
   "encoding": {"x": {"field": "t", "type": "quantitative", "scale": {"domain": [2.9, 3.3], "range": [62, 190], "nice": false, "zero": false}, "axis": null}, "y": {"datum": -0.058, "type": "quantitative", "scale": {"domain": [0, 1], "range": [515, 412], "nice": false, "zero": false}, "axis": null}, "text": {"field": "l", "type": "nominal"}}},
  {"data": {"values": [{}]}, "mark": {"type": "text", "text": "Energy (eV)", "fontSize": 16, "align": "center", "baseline": "top", "color": "#000"},
   "encoding": {"x": {"datum": 3.1, "type": "quantitative", "scale": {"domain": [2.9, 3.3], "range": [62, 190], "nice": false, "zero": false}, "axis": null}, "y": {"datum": -0.186, "type": "quantitative", "scale": {"domain": [0, 1], "range": [515, 412], "nice": false, "zero": false}, "axis": null}}},
  {"data": {"values": [{}]}, "mark": {"type": "text", "text": "(αhν)²", "font": "Liberation Serif", "fontSize": 18, "angle": 270, "align": "center", "baseline": "bottom", "color": "#111"},
   "encoding": {"x": {"datum": 2.897, "type": "quantitative", "scale": {"domain": [2.9, 3.3], "range": [62, 190], "nice": false, "zero": false}, "axis": null}, "y": {"datum": 0.5, "type": "quantitative", "scale": {"domain": [0, 1], "range": [515, 412], "nice": false, "zero": false}, "axis": null}}},
  {"data": {"values": [{}]}, "mark": {"type": "text", "text": "E", "fontSize": 14, "align": "left", "baseline": "alphabetic", "color": "#111"},
   "encoding": {"x": {"datum": 2.906, "type": "quantitative", "scale": {"domain": [2.9, 3.3], "range": [62, 190], "nice": false, "zero": false}, "axis": null}, "y": {"datum": 0.803, "type": "quantitative", "scale": {"domain": [0, 1], "range": [515, 412], "nice": false, "zero": false}, "axis": null}}},
  {"data": {"values": [{}]}, "mark": {"type": "text", "text": "g", "fontSize": 10, "align": "left", "baseline": "alphabetic", "dx": 10, "dy": 4, "color": "#111"},
   "encoding": {"x": {"datum": 2.906, "type": "quantitative", "scale": {"domain": [2.9, 3.3], "range": [62, 190], "nice": false, "zero": false}, "axis": null}, "y": {"datum": 0.803, "type": "quantitative", "scale": {"domain": [0, 1], "range": [515, 412], "nice": false, "zero": false}, "axis": null}}},
  {"data": {"values": [{}]}, "mark": {"type": "text", "text": "= 3.09 eV", "fontSize": 14, "align": "left", "baseline": "alphabetic", "dx": 17, "color": "#111"},
   "encoding": {"x": {"datum": 2.906, "type": "quantitative", "scale": {"domain": [2.9, 3.3], "range": [62, 190], "nice": false, "zero": false}, "axis": null}, "y": {"datum": 0.803, "type": "quantitative", "scale": {"domain": [0, 1], "range": [515, 412], "nice": false, "zero": false}, "axis": null}}}
]},
{"layer": [
  {"data": {"name": "i14"}, "mark": {"type": "line", "color": "#18188c", "strokeWidth": 1.1, "point": {"filled": true, "fill": "#7d7dcb", "stroke": "#18188c", "strokeWidth": 0.6, "size": 13}},
   "encoding": {"x": {"field": "e", "type": "quantitative", "scale": {"domain": [2.9, 3.3], "range": [352, 480], "nice": false, "zero": false}, "axis": null}, "y": {"field": "v", "type": "quantitative", "scale": {"domain": [0, 1], "range": [518, 411], "nice": false, "zero": false}, "axis": null}}},
  {"data": {"values": [{}]}, "mark": {"type": "rule", "color": "#18188c", "strokeWidth": 1.1},
   "encoding": {"x": {"datum": 3.092, "type": "quantitative", "scale": {"domain": [2.9, 3.3], "range": [352, 480], "nice": false, "zero": false}, "axis": null}, "y": {"datum": 0, "type": "quantitative", "scale": {"domain": [0, 1], "range": [518, 411], "nice": false, "zero": false}, "axis": null}, "x2": {"datum": 3.112}, "y2": {"datum": 0.2}}},
  {"data": {"values": [{}]}, "mark": {"type": "rect", "filled": false, "color": "#6e6e6e", "strokeWidth": 1},
   "encoding": {"x": {"datum": 2.9, "type": "quantitative", "scale": {"domain": [2.9, 3.3], "range": [352, 480], "nice": false, "zero": false}, "axis": null}, "x2": {"datum": 3.3}, "y": {"datum": 0, "type": "quantitative", "scale": {"domain": [0, 1], "range": [518, 411], "nice": false, "zero": false}, "axis": null}, "y2": {"datum": 1}}},
  {"data": {"name": "tk_c"}, "mark": {"type": "rule", "color": "#444", "strokeWidth": 1},
   "encoding": {"x": {"field": "t", "type": "quantitative", "scale": {"domain": [2.9, 3.3], "range": [352, 480], "nice": false, "zero": false}, "axis": null}, "y": {"datum": 0, "type": "quantitative", "scale": {"domain": [0, 1], "range": [518, 411], "nice": false, "zero": false}, "axis": null}, "y2": {"datum": -0.028}}},
  {"data": {"name": "tk_c"}, "mark": {"type": "text", "fontSize": 12, "align": "center", "baseline": "top", "color": "#222"},
   "encoding": {"x": {"field": "t", "type": "quantitative", "scale": {"domain": [2.9, 3.3], "range": [352, 480], "nice": false, "zero": false}, "axis": null}, "y": {"datum": -0.056, "type": "quantitative", "scale": {"domain": [0, 1], "range": [518, 411], "nice": false, "zero": false}, "axis": null}, "text": {"field": "l", "type": "nominal"}}},
  {"data": {"values": [{}]}, "mark": {"type": "text", "text": "Energy (eV)", "fontSize": 16, "align": "center", "baseline": "top", "color": "#000"},
   "encoding": {"x": {"datum": 3.1, "type": "quantitative", "scale": {"domain": [2.9, 3.3], "range": [352, 480], "nice": false, "zero": false}, "axis": null}, "y": {"datum": -0.178, "type": "quantitative", "scale": {"domain": [0, 1], "range": [518, 411], "nice": false, "zero": false}, "axis": null}}},
  {"data": {"values": [{}]}, "mark": {"type": "text", "text": "(αhν)²", "font": "Liberation Serif", "fontSize": 18, "angle": 270, "align": "center", "baseline": "bottom", "color": "#111"},
   "encoding": {"x": {"datum": 2.897, "type": "quantitative", "scale": {"domain": [2.9, 3.3], "range": [352, 480], "nice": false, "zero": false}, "axis": null}, "y": {"datum": 0.5, "type": "quantitative", "scale": {"domain": [0, 1], "range": [518, 411], "nice": false, "zero": false}, "axis": null}}},
  {"data": {"values": [{}]}, "mark": {"type": "text", "text": "E", "fontSize": 14, "align": "left", "baseline": "alphabetic", "color": "#111"},
   "encoding": {"x": {"datum": 2.904, "type": "quantitative", "scale": {"domain": [2.9, 3.3], "range": [352, 480], "nice": false, "zero": false}, "axis": null}, "y": {"datum": 0.838, "type": "quantitative", "scale": {"domain": [0, 1], "range": [518, 411], "nice": false, "zero": false}, "axis": null}}},
  {"data": {"values": [{}]}, "mark": {"type": "text", "text": "g", "fontSize": 10, "align": "left", "baseline": "alphabetic", "dx": 10, "dy": 4, "color": "#111"},
   "encoding": {"x": {"datum": 2.904, "type": "quantitative", "scale": {"domain": [2.9, 3.3], "range": [352, 480], "nice": false, "zero": false}, "axis": null}, "y": {"datum": 0.838, "type": "quantitative", "scale": {"domain": [0, 1], "range": [518, 411], "nice": false, "zero": false}, "axis": null}}},
  {"data": {"values": [{}]}, "mark": {"type": "text", "text": "= 3.09 eV", "fontSize": 14, "align": "left", "baseline": "alphabetic", "dx": 17, "color": "#111"},
   "encoding": {"x": {"datum": 2.904, "type": "quantitative", "scale": {"domain": [2.9, 3.3], "range": [352, 480], "nice": false, "zero": false}, "axis": null}, "y": {"datum": 0.838, "type": "quantitative", "scale": {"domain": [0, 1], "range": [518, 411], "nice": false, "zero": false}, "axis": null}}}
]},
{"layer": [
  {"data": {"name": "i16"}, "mark": {"type": "line", "color": "#b58814", "strokeWidth": 1.1, "point": {"filled": true, "fill": "#e2c575", "stroke": "#b58814", "strokeWidth": 0.6, "size": 13}},
   "encoding": {"x": {"field": "e", "type": "quantitative", "scale": {"domain": [3.0, 3.3], "range": [640, 768], "nice": false, "zero": false}, "axis": null}, "y": {"field": "v", "type": "quantitative", "scale": {"domain": [0, 1], "range": [521, 412], "nice": false, "zero": false}, "axis": null}}},
  {"data": {"values": [{}]}, "mark": {"type": "rule", "color": "#b58814", "strokeWidth": 1.1},
   "encoding": {"x": {"datum": 3.118, "type": "quantitative", "scale": {"domain": [3.0, 3.3], "range": [640, 768], "nice": false, "zero": false}, "axis": null}, "y": {"datum": 0, "type": "quantitative", "scale": {"domain": [0, 1], "range": [521, 412], "nice": false, "zero": false}, "axis": null}, "x2": {"datum": 3.166}, "y2": {"datum": 0.494}}},
  {"data": {"values": [{}]}, "mark": {"type": "rect", "filled": false, "color": "#6e6e6e", "strokeWidth": 1},
   "encoding": {"x": {"datum": 3.0, "type": "quantitative", "scale": {"domain": [3.0, 3.3], "range": [640, 768], "nice": false, "zero": false}, "axis": null}, "x2": {"datum": 3.3}, "y": {"datum": 0, "type": "quantitative", "scale": {"domain": [0, 1], "range": [521, 412], "nice": false, "zero": false}, "axis": null}, "y2": {"datum": 1}}},
  {"data": {"name": "tk_d"}, "mark": {"type": "rule", "color": "#444", "strokeWidth": 1},
   "encoding": {"x": {"field": "t", "type": "quantitative", "scale": {"domain": [3.0, 3.3], "range": [640, 768], "nice": false, "zero": false}, "axis": null}, "y": {"datum": 0, "type": "quantitative", "scale": {"domain": [0, 1], "range": [521, 412], "nice": false, "zero": false}, "axis": null}, "y2": {"datum": -0.028}}},
  {"data": {"name": "tk_d"}, "mark": {"type": "text", "fontSize": 12, "align": "center", "baseline": "top", "color": "#222"},
   "encoding": {"x": {"field": "t", "type": "quantitative", "scale": {"domain": [3.0, 3.3], "range": [640, 768], "nice": false, "zero": false}, "axis": null}, "y": {"datum": -0.055, "type": "quantitative", "scale": {"domain": [0, 1], "range": [521, 412], "nice": false, "zero": false}, "axis": null}, "text": {"field": "l", "type": "nominal"}}},
  {"data": {"values": [{}]}, "mark": {"type": "text", "text": "Energy (eV)", "fontSize": 16, "align": "center", "baseline": "top", "color": "#000"},
   "encoding": {"x": {"datum": 3.15, "type": "quantitative", "scale": {"domain": [3.0, 3.3], "range": [640, 768], "nice": false, "zero": false}, "axis": null}, "y": {"datum": -0.175, "type": "quantitative", "scale": {"domain": [0, 1], "range": [521, 412], "nice": false, "zero": false}, "axis": null}}},
  {"data": {"values": [{}]}, "mark": {"type": "text", "text": "(αhν)²", "font": "Liberation Serif", "fontSize": 18, "angle": 270, "align": "center", "baseline": "bottom", "color": "#111"},
   "encoding": {"x": {"datum": 2.9977, "type": "quantitative", "scale": {"domain": [3.0, 3.3], "range": [640, 768], "nice": false, "zero": false}, "axis": null}, "y": {"datum": 0.5, "type": "quantitative", "scale": {"domain": [0, 1], "range": [521, 412], "nice": false, "zero": false}, "axis": null}}},
  {"data": {"values": [{}]}, "mark": {"type": "text", "text": "E", "fontSize": 14, "align": "left", "baseline": "alphabetic", "color": "#111"},
   "encoding": {"x": {"datum": 3.008, "type": "quantitative", "scale": {"domain": [3.0, 3.3], "range": [640, 768], "nice": false, "zero": false}, "axis": null}, "y": {"datum": 0.81, "type": "quantitative", "scale": {"domain": [0, 1], "range": [521, 412], "nice": false, "zero": false}, "axis": null}}},
  {"data": {"values": [{}]}, "mark": {"type": "text", "text": "g", "fontSize": 10, "align": "left", "baseline": "alphabetic", "dx": 10, "dy": 4, "color": "#111"},
   "encoding": {"x": {"datum": 3.008, "type": "quantitative", "scale": {"domain": [3.0, 3.3], "range": [640, 768], "nice": false, "zero": false}, "axis": null}, "y": {"datum": 0.81, "type": "quantitative", "scale": {"domain": [0, 1], "range": [521, 412], "nice": false, "zero": false}, "axis": null}}},
  {"data": {"values": [{}]}, "mark": {"type": "text", "text": "= 3.11 eV", "fontSize": 14, "align": "left", "baseline": "alphabetic", "dx": 17, "color": "#111"},
   "encoding": {"x": {"datum": 3.008, "type": "quantitative", "scale": {"domain": [3.0, 3.3], "range": [640, 768], "nice": false, "zero": false}, "axis": null}, "y": {"datum": 0.81, "type": "quantitative", "scale": {"domain": [0, 1], "range": [521, 412], "nice": false, "zero": false}, "axis": null}}}
]},
{"layer": [
  {"data": {"name": "i18"}, "mark": {"type": "line", "color": "#118b89", "strokeWidth": 1.1, "point": {"filled": true, "fill": "#7fcdca", "stroke": "#118b89", "strokeWidth": 0.6, "size": 13}},
   "encoding": {"x": {"field": "e", "type": "quantitative", "scale": {"domain": [3.0, 3.2], "range": [930, 1057], "nice": false, "zero": false}, "axis": null}, "y": {"field": "v", "type": "quantitative", "scale": {"domain": [0, 1], "range": [517, 411], "nice": false, "zero": false}, "axis": null}}},
  {"data": {"values": [{}]}, "mark": {"type": "rule", "color": "#118b89", "strokeWidth": 1.1},
   "encoding": {"x": {"datum": 3.112, "type": "quantitative", "scale": {"domain": [3.0, 3.2], "range": [930, 1057], "nice": false, "zero": false}, "axis": null}, "y": {"datum": 0, "type": "quantitative", "scale": {"domain": [0, 1], "range": [517, 411], "nice": false, "zero": false}, "axis": null}, "x2": {"datum": 3.131}, "y2": {"datum": 0.47}}},
  {"data": {"values": [{}]}, "mark": {"type": "rect", "filled": false, "color": "#6e6e6e", "strokeWidth": 1},
   "encoding": {"x": {"datum": 3.0, "type": "quantitative", "scale": {"domain": [3.0, 3.2], "range": [930, 1057], "nice": false, "zero": false}, "axis": null}, "x2": {"datum": 3.2}, "y": {"datum": 0, "type": "quantitative", "scale": {"domain": [0, 1], "range": [517, 411], "nice": false, "zero": false}, "axis": null}, "y2": {"datum": 1}}},
  {"data": {"name": "tk_b"}, "mark": {"type": "rule", "color": "#444", "strokeWidth": 1},
   "encoding": {"x": {"field": "t", "type": "quantitative", "scale": {"domain": [3.0, 3.2], "range": [930, 1057], "nice": false, "zero": false}, "axis": null}, "y": {"datum": 0, "type": "quantitative", "scale": {"domain": [0, 1], "range": [517, 411], "nice": false, "zero": false}, "axis": null}, "y2": {"datum": -0.028}}},
  {"data": {"name": "tk_b"}, "mark": {"type": "text", "fontSize": 12, "align": "center", "baseline": "top", "color": "#222"},
   "encoding": {"x": {"field": "t", "type": "quantitative", "scale": {"domain": [3.0, 3.2], "range": [930, 1057], "nice": false, "zero": false}, "axis": null}, "y": {"datum": -0.057, "type": "quantitative", "scale": {"domain": [0, 1], "range": [517, 411], "nice": false, "zero": false}, "axis": null}, "text": {"field": "l", "type": "nominal"}}},
  {"data": {"values": [{}]}, "mark": {"type": "text", "text": "Energy (eV)", "fontSize": 16, "align": "center", "baseline": "top", "color": "#000"},
   "encoding": {"x": {"datum": 3.1, "type": "quantitative", "scale": {"domain": [3.0, 3.2], "range": [930, 1057], "nice": false, "zero": false}, "axis": null}, "y": {"datum": -0.18, "type": "quantitative", "scale": {"domain": [0, 1], "range": [517, 411], "nice": false, "zero": false}, "axis": null}}},
  {"data": {"values": [{}]}, "mark": {"type": "text", "text": "(αhν)²", "font": "Liberation Serif", "fontSize": 18, "angle": 270, "align": "center", "baseline": "bottom", "color": "#111"},
   "encoding": {"x": {"datum": 2.998, "type": "quantitative", "scale": {"domain": [3.0, 3.2], "range": [930, 1057], "nice": false, "zero": false}, "axis": null}, "y": {"datum": 0.5, "type": "quantitative", "scale": {"domain": [0, 1], "range": [517, 411], "nice": false, "zero": false}, "axis": null}}},
  {"data": {"values": [{}]}, "mark": {"type": "text", "text": "E", "fontSize": 14, "align": "left", "baseline": "alphabetic", "color": "#111"},
   "encoding": {"x": {"datum": 3.008, "type": "quantitative", "scale": {"domain": [3.0, 3.2], "range": [930, 1057], "nice": false, "zero": false}, "axis": null}, "y": {"datum": 0.814, "type": "quantitative", "scale": {"domain": [0, 1], "range": [517, 411], "nice": false, "zero": false}, "axis": null}}},
  {"data": {"values": [{}]}, "mark": {"type": "text", "text": "g", "fontSize": 10, "align": "left", "baseline": "alphabetic", "dx": 10, "dy": 4, "color": "#111"},
   "encoding": {"x": {"datum": 3.008, "type": "quantitative", "scale": {"domain": [3.0, 3.2], "range": [930, 1057], "nice": false, "zero": false}, "axis": null}, "y": {"datum": 0.814, "type": "quantitative", "scale": {"domain": [0, 1], "range": [517, 411], "nice": false, "zero": false}, "axis": null}}},
  {"data": {"values": [{}]}, "mark": {"type": "text", "text": "= 3.11 eV", "fontSize": 14, "align": "left", "baseline": "alphabetic", "dx": 17, "color": "#111"},
   "encoding": {"x": {"datum": 3.008, "type": "quantitative", "scale": {"domain": [3.0, 3.2], "range": [930, 1057], "nice": false, "zero": false}, "axis": null}, "y": {"datum": 0.814, "type": "quantitative", "scale": {"domain": [0, 1], "range": [517, 411], "nice": false, "zero": false}, "axis": null}}}
]},
{"data": {"values": [{}]},
 "layer": [
  {"mark": {"type": "rule", "color": "#000", "strokeWidth": 2},
   "encoding": {"x": {"datum": 64.33, "type": "quantitative", "scale": {"domain": [0, 100], "range": [0, 1228], "nice": false, "zero": false}, "axis": null}, "x2": {"datum": 96.42}, "y": {"datum": 5.38, "type": "quantitative", "scale": {"domain": [0, 100], "range": [0, 638], "nice": false, "zero": false}, "axis": null}}},
  {"mark": {"type": "rule", "color": "#000", "strokeWidth": 2},
   "encoding": {"x": {"datum": 96.42, "type": "quantitative", "scale": {"domain": [0, 100], "range": [0, 1228], "nice": false, "zero": false}, "axis": null}, "y": {"datum": 5.38, "type": "quantitative", "scale": {"domain": [0, 100], "range": [0, 638], "nice": false, "zero": false}, "axis": null}, "y2": {"datum": 100}}},
  {"mark": {"type": "rule", "color": "#000", "strokeWidth": 2},
   "encoding": {"x": {"datum": 64.33, "type": "quantitative", "scale": {"domain": [0, 100], "range": [0, 1228], "nice": false, "zero": false}, "axis": null}, "y": {"datum": 5.38, "type": "quantitative", "scale": {"domain": [0, 100], "range": [0, 638], "nice": false, "zero": false}, "axis": null}, "y2": {"datum": 59.25}}},
  {"mark": {"type": "rule", "color": "#000", "strokeWidth": 2},
   "encoding": {"x": {"datum": 1.55, "type": "quantitative", "scale": {"domain": [0, 100], "range": [0, 1228], "nice": false, "zero": false}, "axis": null}, "x2": {"datum": 64.33}, "y": {"datum": 59.25, "type": "quantitative", "scale": {"domain": [0, 100], "range": [0, 638], "nice": false, "zero": false}, "axis": null}}},
  {"mark": {"type": "rule", "color": "#000", "strokeWidth": 2},
   "encoding": {"x": {"datum": 1.55, "type": "quantitative", "scale": {"domain": [0, 100], "range": [0, 1228], "nice": false, "zero": false}, "axis": null}, "y": {"datum": 59.25, "type": "quantitative", "scale": {"domain": [0, 100], "range": [0, 638], "nice": false, "zero": false}, "axis": null}, "y2": {"datum": 100}}},
  {"mark": {"type": "text", "text": "a", "fontSize": 28, "fontWeight": "bold", "align": "left", "baseline": "alphabetic", "color": "#000"},
   "encoding": {"x": {"datum": 0.98, "type": "quantitative", "scale": {"domain": [0, 100], "range": [0, 1228], "nice": false, "zero": false}, "axis": null}, "y": {"datum": 4.7, "type": "quantitative", "scale": {"domain": [0, 100], "range": [0, 638], "nice": false, "zero": false}, "axis": null}}},
  {"mark": {"type": "text", "text": "b", "fontSize": 28, "fontWeight": "bold", "align": "left", "baseline": "alphabetic", "color": "#000"},
   "encoding": {"x": {"datum": 0.98, "type": "quantitative", "scale": {"domain": [0, 100], "range": [0, 1228], "nice": false, "zero": false}, "axis": null}, "y": {"datum": 58.0, "type": "quantitative", "scale": {"domain": [0, 100], "range": [0, 638], "nice": false, "zero": false}, "axis": null}}},
  {"mark": {"type": "text", "text": "Type I", "fontSize": 30, "fontWeight": "bold", "align": "center", "baseline": "alphabetic", "color": "#000"},
   "encoding": {"x": {"datum": 9.53, "type": "quantitative", "scale": {"domain": [0, 100], "range": [0, 1228], "nice": false, "zero": false}, "axis": null}, "y": {"datum": 5.8, "type": "quantitative", "scale": {"domain": [0, 100], "range": [0, 638], "nice": false, "zero": false}, "axis": null}}},
  {"mark": {"type": "text", "text": "Type II", "fontSize": 30, "fontWeight": "bold", "align": "center", "baseline": "alphabetic", "color": "#000"},
   "encoding": {"x": {"datum": 42.1, "type": "quantitative", "scale": {"domain": [0, 100], "range": [0, 1228], "nice": false, "zero": false}, "axis": null}, "y": {"datum": 5.8, "type": "quantitative", "scale": {"domain": [0, 100], "range": [0, 638], "nice": false, "zero": false}, "axis": null}}},
  {"mark": {"type": "text", "text": "Type III Organoammonium Cations", "fontSize": 32, "fontWeight": "bold", "angle": 90, "align": "center", "baseline": "middle", "color": "#000"},
   "encoding": {"x": {"datum": 98.53, "type": "quantitative", "scale": {"domain": [0, 100], "range": [0, 1228], "nice": false, "zero": false}, "axis": null}, "y": {"datum": 53.13, "type": "quantitative", "scale": {"domain": [0, 100], "range": [0, 638], "nice": false, "zero": false}, "axis": null}}}
 ]}
],
"resolve": {"scale": {"x": "independent", "y": "independent"}}
}
